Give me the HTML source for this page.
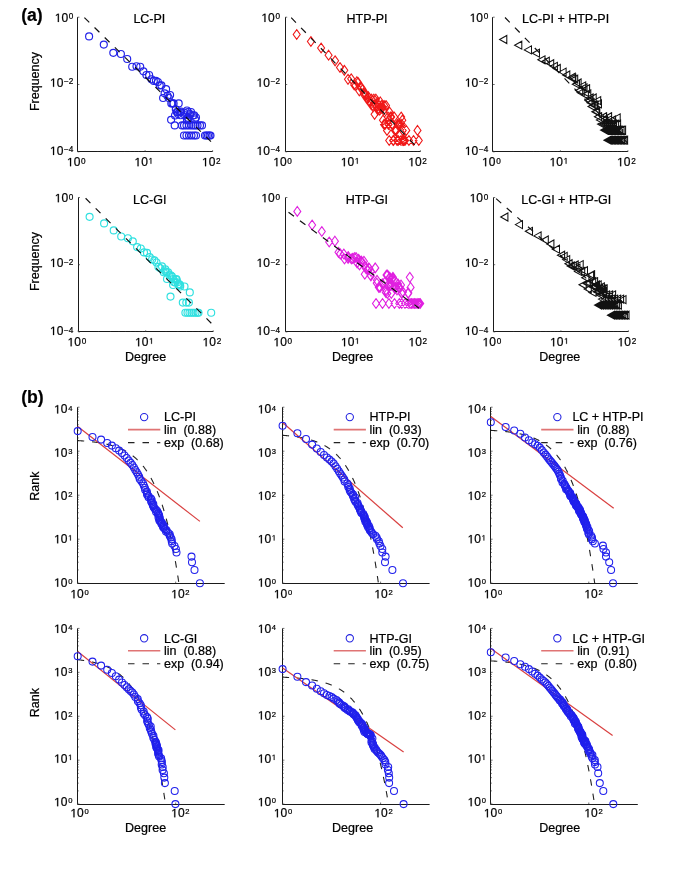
<!DOCTYPE html><html><head><meta charset="utf-8"><style>html,body{margin:0;padding:0;background:#fff;}svg{display:block;filter:blur(0.3px);}text{font-family:"Liberation Sans", sans-serif;fill:#000;stroke:#000;stroke-width:0.22px;}</style></head><body>
<svg width="685" height="872" viewBox="0 0 685 872">
<rect width="685" height="872" fill="#fff"/>
<text x="21.2" y="20.6" font-size="17.6" font-weight="bold">(a)</text>
<text x="21.2" y="403.4" font-size="17.6" font-weight="bold">(b)</text>
<path d="M77.50 17.20V151.50H212.60" fill="none" stroke="#1a1a1a" stroke-width="1.0"/>
<path d="M77.60 151.80v-1.6M97.92 151.80v-0.8M109.81 151.80v-0.8M118.24 151.80v-0.8M124.78 151.80v-0.8M130.13 151.80v-0.8M134.64 151.80v-0.8M138.56 151.80v-0.8M142.01 151.80v-0.8M145.10 151.80v-1.6M165.42 151.80v-0.8M177.31 151.80v-0.8M185.74 151.80v-0.8M192.28 151.80v-0.8M197.63 151.80v-0.8M202.14 151.80v-0.8M206.06 151.80v-0.8M209.51 151.80v-0.8M212.60 151.80v-1.6M77.60 151.80h1.8M77.60 84.50h1.8M77.60 17.20h1.8" stroke="#333" stroke-width="0.7" fill="none"/>
<path transform="translate(67.00 166.20) scale(0.00586 -0.00586)" d="M515 0L696 0L696 1409L530 1409L197 1180L197 1010L515 1237Z" fill="#000" stroke="#000" stroke-width="37.5"/><text x="73.67" y="166.20" font-size="12.0">0</text><text x="81.04" y="163.70" font-size="8.2">0</text>
<path transform="translate(134.50 166.20) scale(0.00586 -0.00586)" d="M515 0L696 0L696 1409L530 1409L197 1180L197 1010L515 1237Z" fill="#000" stroke="#000" stroke-width="37.5"/><text x="141.17" y="166.20" font-size="12.0">0</text><path transform="translate(148.54 163.70) scale(0.00400 -0.00400)" d="M515 0L696 0L696 1409L530 1409L197 1180L197 1010L515 1237Z" fill="#000" stroke="#000" stroke-width="54.9"/>
<path transform="translate(202.00 166.20) scale(0.00586 -0.00586)" d="M515 0L696 0L696 1409L530 1409L197 1180L197 1010L515 1237Z" fill="#000" stroke="#000" stroke-width="37.5"/><text x="208.67" y="166.20" font-size="12.0">0</text><text x="216.04" y="163.70" font-size="8.2">2</text>
<path transform="translate(54.79 21.90) scale(0.00586 -0.00586)" d="M515 0L696 0L696 1409L530 1409L197 1180L197 1010L515 1237Z" fill="#000" stroke="#000" stroke-width="37.5"/><text x="61.46" y="21.90" font-size="12.0">0</text><text x="68.84" y="19.40" font-size="8.2">0</text>
<path transform="translate(50.00 86.80) scale(0.00586 -0.00586)" d="M515 0L696 0L696 1409L530 1409L197 1180L197 1010L515 1237Z" fill="#000" stroke="#000" stroke-width="37.5"/><text x="56.68" y="86.80" font-size="12.0">0</text><text x="64.05" y="84.30" font-size="8.2">−</text><text x="68.84" y="84.30" font-size="8.2">2</text>
<path transform="translate(50.00 154.95) scale(0.00586 -0.00586)" d="M515 0L696 0L696 1409L530 1409L197 1180L197 1010L515 1237Z" fill="#000" stroke="#000" stroke-width="37.5"/><text x="56.68" y="154.95" font-size="12.0">0</text><text x="64.05" y="152.45" font-size="8.2">−</text><text x="68.84" y="152.45" font-size="8.2">4</text>
<text x="133.4" y="22.6" font-size="12.5">LC-PI</text>
<path d="M285.50 17.20V151.50H420.40" fill="none" stroke="#1a1a1a" stroke-width="1.0"/>
<path d="M285.40 151.80v-1.6M305.72 151.80v-0.8M317.61 151.80v-0.8M326.04 151.80v-0.8M332.58 151.80v-0.8M337.93 151.80v-0.8M342.44 151.80v-0.8M346.36 151.80v-0.8M349.81 151.80v-0.8M352.90 151.80v-1.6M373.22 151.80v-0.8M385.11 151.80v-0.8M393.54 151.80v-0.8M400.08 151.80v-0.8M405.43 151.80v-0.8M409.94 151.80v-0.8M413.86 151.80v-0.8M417.31 151.80v-0.8M420.40 151.80v-1.6M285.40 151.80h1.8M285.40 84.50h1.8M285.40 17.20h1.8" stroke="#333" stroke-width="0.7" fill="none"/>
<path transform="translate(273.30 166.20) scale(0.00586 -0.00586)" d="M515 0L696 0L696 1409L530 1409L197 1180L197 1010L515 1237Z" fill="#000" stroke="#000" stroke-width="37.5"/><text x="279.97" y="166.20" font-size="12.0">0</text><text x="287.34" y="163.70" font-size="8.2">0</text>
<path transform="translate(340.80 166.20) scale(0.00586 -0.00586)" d="M515 0L696 0L696 1409L530 1409L197 1180L197 1010L515 1237Z" fill="#000" stroke="#000" stroke-width="37.5"/><text x="347.47" y="166.20" font-size="12.0">0</text><path transform="translate(354.84 163.70) scale(0.00400 -0.00400)" d="M515 0L696 0L696 1409L530 1409L197 1180L197 1010L515 1237Z" fill="#000" stroke="#000" stroke-width="54.9"/>
<path transform="translate(408.30 166.20) scale(0.00586 -0.00586)" d="M515 0L696 0L696 1409L530 1409L197 1180L197 1010L515 1237Z" fill="#000" stroke="#000" stroke-width="37.5"/><text x="414.97" y="166.20" font-size="12.0">0</text><text x="422.34" y="163.70" font-size="8.2">2</text>
<path transform="translate(261.39 21.90) scale(0.00586 -0.00586)" d="M515 0L696 0L696 1409L530 1409L197 1180L197 1010L515 1237Z" fill="#000" stroke="#000" stroke-width="37.5"/><text x="268.06" y="21.90" font-size="12.0">0</text><text x="275.44" y="19.40" font-size="8.2">0</text>
<path transform="translate(256.60 86.80) scale(0.00586 -0.00586)" d="M515 0L696 0L696 1409L530 1409L197 1180L197 1010L515 1237Z" fill="#000" stroke="#000" stroke-width="37.5"/><text x="263.28" y="86.80" font-size="12.0">0</text><text x="270.65" y="84.30" font-size="8.2">−</text><text x="275.44" y="84.30" font-size="8.2">2</text>
<path transform="translate(256.60 154.95) scale(0.00586 -0.00586)" d="M515 0L696 0L696 1409L530 1409L197 1180L197 1010L515 1237Z" fill="#000" stroke="#000" stroke-width="37.5"/><text x="263.28" y="154.95" font-size="12.0">0</text><text x="270.65" y="152.45" font-size="8.2">−</text><text x="275.44" y="152.45" font-size="8.2">4</text>
<text x="346.5" y="22.6" font-size="12.5">HTP-PI</text>
<path d="M492.50 17.20V151.50H627.90" fill="none" stroke="#1a1a1a" stroke-width="1.0"/>
<path d="M492.90 151.80v-1.6M513.22 151.80v-0.8M525.11 151.80v-0.8M533.54 151.80v-0.8M540.08 151.80v-0.8M545.43 151.80v-0.8M549.94 151.80v-0.8M553.86 151.80v-0.8M557.31 151.80v-0.8M560.40 151.80v-1.6M580.72 151.80v-0.8M592.61 151.80v-0.8M601.04 151.80v-0.8M607.58 151.80v-0.8M612.93 151.80v-0.8M617.44 151.80v-0.8M621.36 151.80v-0.8M624.81 151.80v-0.8M627.90 151.80v-1.6M492.90 151.80h1.8M492.90 84.50h1.8M492.90 17.20h1.8" stroke="#333" stroke-width="0.7" fill="none"/>
<path transform="translate(482.10 166.20) scale(0.00586 -0.00586)" d="M515 0L696 0L696 1409L530 1409L197 1180L197 1010L515 1237Z" fill="#000" stroke="#000" stroke-width="37.5"/><text x="488.77" y="166.20" font-size="12.0">0</text><text x="496.14" y="163.70" font-size="8.2">0</text>
<path transform="translate(549.60 166.20) scale(0.00586 -0.00586)" d="M515 0L696 0L696 1409L530 1409L197 1180L197 1010L515 1237Z" fill="#000" stroke="#000" stroke-width="37.5"/><text x="556.27" y="166.20" font-size="12.0">0</text><path transform="translate(563.64 163.70) scale(0.00400 -0.00400)" d="M515 0L696 0L696 1409L530 1409L197 1180L197 1010L515 1237Z" fill="#000" stroke="#000" stroke-width="54.9"/>
<path transform="translate(617.10 166.20) scale(0.00586 -0.00586)" d="M515 0L696 0L696 1409L530 1409L197 1180L197 1010L515 1237Z" fill="#000" stroke="#000" stroke-width="37.5"/><text x="623.77" y="166.20" font-size="12.0">0</text><text x="631.14" y="163.70" font-size="8.2">2</text>
<path transform="translate(469.69 21.90) scale(0.00586 -0.00586)" d="M515 0L696 0L696 1409L530 1409L197 1180L197 1010L515 1237Z" fill="#000" stroke="#000" stroke-width="37.5"/><text x="476.36" y="21.90" font-size="12.0">0</text><text x="483.74" y="19.40" font-size="8.2">0</text>
<path transform="translate(464.90 86.80) scale(0.00586 -0.00586)" d="M515 0L696 0L696 1409L530 1409L197 1180L197 1010L515 1237Z" fill="#000" stroke="#000" stroke-width="37.5"/><text x="471.58" y="86.80" font-size="12.0">0</text><text x="478.95" y="84.30" font-size="8.2">−</text><text x="483.74" y="84.30" font-size="8.2">2</text>
<path transform="translate(464.90 154.95) scale(0.00586 -0.00586)" d="M515 0L696 0L696 1409L530 1409L197 1180L197 1010L515 1237Z" fill="#000" stroke="#000" stroke-width="37.5"/><text x="471.58" y="154.95" font-size="12.0">0</text><text x="478.95" y="152.45" font-size="8.2">−</text><text x="483.74" y="152.45" font-size="8.2">4</text>
<text x="522.0" y="22.6" font-size="12.5">LC-PI + HTP-PI</text>
<text transform="translate(38.8 81.5) rotate(-90)" text-anchor="middle" font-size="12.5">Frequency</text>
<path d="M78.50 197.50V331.50H213.20" fill="none" stroke="#1a1a1a" stroke-width="1.0"/>
<path d="M78.20 331.90v-1.6M98.52 331.90v-0.8M110.41 331.90v-0.8M118.84 331.90v-0.8M125.38 331.90v-0.8M130.73 331.90v-0.8M135.24 331.90v-0.8M139.16 331.90v-0.8M142.61 331.90v-0.8M145.70 331.90v-1.6M166.02 331.90v-0.8M177.91 331.90v-0.8M186.34 331.90v-0.8M192.88 331.90v-0.8M198.23 331.90v-0.8M202.74 331.90v-0.8M206.66 331.90v-0.8M210.11 331.90v-0.8M213.20 331.90v-1.6M78.20 331.90h1.8M78.20 264.70h1.8M78.20 197.50h1.8" stroke="#333" stroke-width="0.7" fill="none"/>
<path transform="translate(67.60 346.30) scale(0.00586 -0.00586)" d="M515 0L696 0L696 1409L530 1409L197 1180L197 1010L515 1237Z" fill="#000" stroke="#000" stroke-width="37.5"/><text x="74.27" y="346.30" font-size="12.0">0</text><text x="81.64" y="343.80" font-size="8.2">0</text>
<path transform="translate(135.10 346.30) scale(0.00586 -0.00586)" d="M515 0L696 0L696 1409L530 1409L197 1180L197 1010L515 1237Z" fill="#000" stroke="#000" stroke-width="37.5"/><text x="141.77" y="346.30" font-size="12.0">0</text><path transform="translate(149.14 343.80) scale(0.00400 -0.00400)" d="M515 0L696 0L696 1409L530 1409L197 1180L197 1010L515 1237Z" fill="#000" stroke="#000" stroke-width="54.9"/>
<path transform="translate(202.60 346.30) scale(0.00586 -0.00586)" d="M515 0L696 0L696 1409L530 1409L197 1180L197 1010L515 1237Z" fill="#000" stroke="#000" stroke-width="37.5"/><text x="209.27" y="346.30" font-size="12.0">0</text><text x="216.64" y="343.80" font-size="8.2">2</text>
<path transform="translate(54.79 202.20) scale(0.00586 -0.00586)" d="M515 0L696 0L696 1409L530 1409L197 1180L197 1010L515 1237Z" fill="#000" stroke="#000" stroke-width="37.5"/><text x="61.46" y="202.20" font-size="12.0">0</text><text x="68.84" y="199.70" font-size="8.2">0</text>
<path transform="translate(50.00 267.00) scale(0.00586 -0.00586)" d="M515 0L696 0L696 1409L530 1409L197 1180L197 1010L515 1237Z" fill="#000" stroke="#000" stroke-width="37.5"/><text x="56.68" y="267.00" font-size="12.0">0</text><text x="64.05" y="264.50" font-size="8.2">−</text><text x="68.84" y="264.50" font-size="8.2">2</text>
<path transform="translate(50.00 335.05) scale(0.00586 -0.00586)" d="M515 0L696 0L696 1409L530 1409L197 1180L197 1010L515 1237Z" fill="#000" stroke="#000" stroke-width="37.5"/><text x="56.68" y="335.05" font-size="12.0">0</text><text x="64.05" y="332.55" font-size="8.2">−</text><text x="68.84" y="332.55" font-size="8.2">4</text>
<text x="133.1" y="203.5" font-size="12.5">LC-GI</text>
<path d="M285.50 197.50V331.50H420.60" fill="none" stroke="#1a1a1a" stroke-width="1.0"/>
<path d="M285.60 331.90v-1.6M305.92 331.90v-0.8M317.81 331.90v-0.8M326.24 331.90v-0.8M332.78 331.90v-0.8M338.13 331.90v-0.8M342.64 331.90v-0.8M346.56 331.90v-0.8M350.01 331.90v-0.8M353.10 331.90v-1.6M373.42 331.90v-0.8M385.31 331.90v-0.8M393.74 331.90v-0.8M400.28 331.90v-0.8M405.63 331.90v-0.8M410.14 331.90v-0.8M414.06 331.90v-0.8M417.51 331.90v-0.8M420.60 331.90v-1.6M285.60 331.90h1.8M285.60 264.70h1.8M285.60 197.50h1.8" stroke="#333" stroke-width="0.7" fill="none"/>
<path transform="translate(273.50 346.30) scale(0.00586 -0.00586)" d="M515 0L696 0L696 1409L530 1409L197 1180L197 1010L515 1237Z" fill="#000" stroke="#000" stroke-width="37.5"/><text x="280.17" y="346.30" font-size="12.0">0</text><text x="287.54" y="343.80" font-size="8.2">0</text>
<path transform="translate(341.00 346.30) scale(0.00586 -0.00586)" d="M515 0L696 0L696 1409L530 1409L197 1180L197 1010L515 1237Z" fill="#000" stroke="#000" stroke-width="37.5"/><text x="347.67" y="346.30" font-size="12.0">0</text><path transform="translate(355.04 343.80) scale(0.00400 -0.00400)" d="M515 0L696 0L696 1409L530 1409L197 1180L197 1010L515 1237Z" fill="#000" stroke="#000" stroke-width="54.9"/>
<path transform="translate(408.50 346.30) scale(0.00586 -0.00586)" d="M515 0L696 0L696 1409L530 1409L197 1180L197 1010L515 1237Z" fill="#000" stroke="#000" stroke-width="37.5"/><text x="415.17" y="346.30" font-size="12.0">0</text><text x="422.54" y="343.80" font-size="8.2">2</text>
<path transform="translate(261.39 202.20) scale(0.00586 -0.00586)" d="M515 0L696 0L696 1409L530 1409L197 1180L197 1010L515 1237Z" fill="#000" stroke="#000" stroke-width="37.5"/><text x="268.06" y="202.20" font-size="12.0">0</text><text x="275.44" y="199.70" font-size="8.2">0</text>
<path transform="translate(256.60 267.00) scale(0.00586 -0.00586)" d="M515 0L696 0L696 1409L530 1409L197 1180L197 1010L515 1237Z" fill="#000" stroke="#000" stroke-width="37.5"/><text x="263.28" y="267.00" font-size="12.0">0</text><text x="270.65" y="264.50" font-size="8.2">−</text><text x="275.44" y="264.50" font-size="8.2">2</text>
<path transform="translate(256.60 335.05) scale(0.00586 -0.00586)" d="M515 0L696 0L696 1409L530 1409L197 1180L197 1010L515 1237Z" fill="#000" stroke="#000" stroke-width="37.5"/><text x="263.28" y="335.05" font-size="12.0">0</text><text x="270.65" y="332.55" font-size="8.2">−</text><text x="275.44" y="332.55" font-size="8.2">4</text>
<text x="345.7" y="203.5" font-size="12.5">HTP-GI</text>
<path d="M493.50 197.50V331.50H628.40" fill="none" stroke="#1a1a1a" stroke-width="1.0"/>
<path d="M493.40 331.90v-1.6M513.72 331.90v-0.8M525.61 331.90v-0.8M534.04 331.90v-0.8M540.58 331.90v-0.8M545.93 331.90v-0.8M550.44 331.90v-0.8M554.36 331.90v-0.8M557.81 331.90v-0.8M560.90 331.90v-1.6M581.22 331.90v-0.8M593.11 331.90v-0.8M601.54 331.90v-0.8M608.08 331.90v-0.8M613.43 331.90v-0.8M617.94 331.90v-0.8M621.86 331.90v-0.8M625.31 331.90v-0.8M628.40 331.90v-1.6M493.40 331.90h1.8M493.40 264.70h1.8M493.40 197.50h1.8" stroke="#333" stroke-width="0.7" fill="none"/>
<path transform="translate(482.60 346.30) scale(0.00586 -0.00586)" d="M515 0L696 0L696 1409L530 1409L197 1180L197 1010L515 1237Z" fill="#000" stroke="#000" stroke-width="37.5"/><text x="489.27" y="346.30" font-size="12.0">0</text><text x="496.64" y="343.80" font-size="8.2">0</text>
<path transform="translate(550.10 346.30) scale(0.00586 -0.00586)" d="M515 0L696 0L696 1409L530 1409L197 1180L197 1010L515 1237Z" fill="#000" stroke="#000" stroke-width="37.5"/><text x="556.77" y="346.30" font-size="12.0">0</text><path transform="translate(564.14 343.80) scale(0.00400 -0.00400)" d="M515 0L696 0L696 1409L530 1409L197 1180L197 1010L515 1237Z" fill="#000" stroke="#000" stroke-width="54.9"/>
<path transform="translate(617.60 346.30) scale(0.00586 -0.00586)" d="M515 0L696 0L696 1409L530 1409L197 1180L197 1010L515 1237Z" fill="#000" stroke="#000" stroke-width="37.5"/><text x="624.27" y="346.30" font-size="12.0">0</text><text x="631.64" y="343.80" font-size="8.2">2</text>
<path transform="translate(469.69 202.20) scale(0.00586 -0.00586)" d="M515 0L696 0L696 1409L530 1409L197 1180L197 1010L515 1237Z" fill="#000" stroke="#000" stroke-width="37.5"/><text x="476.36" y="202.20" font-size="12.0">0</text><text x="483.74" y="199.70" font-size="8.2">0</text>
<path transform="translate(464.90 267.00) scale(0.00586 -0.00586)" d="M515 0L696 0L696 1409L530 1409L197 1180L197 1010L515 1237Z" fill="#000" stroke="#000" stroke-width="37.5"/><text x="471.58" y="267.00" font-size="12.0">0</text><text x="478.95" y="264.50" font-size="8.2">−</text><text x="483.74" y="264.50" font-size="8.2">2</text>
<path transform="translate(464.90 335.05) scale(0.00586 -0.00586)" d="M515 0L696 0L696 1409L530 1409L197 1180L197 1010L515 1237Z" fill="#000" stroke="#000" stroke-width="37.5"/><text x="471.58" y="335.05" font-size="12.0">0</text><text x="478.95" y="332.55" font-size="8.2">−</text><text x="483.74" y="332.55" font-size="8.2">4</text>
<text x="521.3" y="203.5" font-size="12.5">LC-GI + HTP-GI</text>
<text transform="translate(38.8 261.5) rotate(-90)" text-anchor="middle" font-size="12.5">Frequency</text>
<text x="145.6" y="360.7" text-anchor="middle" font-size="12.5">Degree</text>
<text x="352.6" y="360.7" text-anchor="middle" font-size="12.5">Degree</text>
<text x="559.8" y="360.7" text-anchor="middle" font-size="12.5">Degree</text>
<path d="M77.50 407.20V583.50H224.70" fill="none" stroke="#1a1a1a" stroke-width="1.0"/>
<path d="M77.70 583.20v-1.6M175.70 583.20v-1.6M77.70 583.20h1.8M77.70 569.95h1.0M77.70 562.21h1.0M77.70 556.71h1.0M77.70 552.45h1.0M77.70 548.96h1.0M77.70 546.02h1.0M77.70 543.46h1.0M77.70 541.21h1.0M77.70 539.20h1.8M77.70 525.95h1.0M77.70 518.21h1.0M77.70 512.71h1.0M77.70 508.45h1.0M77.70 504.96h1.0M77.70 502.02h1.0M77.70 499.46h1.0M77.70 497.21h1.0M77.70 495.20h1.8M77.70 481.95h1.0M77.70 474.21h1.0M77.70 468.71h1.0M77.70 464.45h1.0M77.70 460.96h1.0M77.70 458.02h1.0M77.70 455.46h1.0M77.70 453.21h1.0M77.70 451.20h1.8M77.70 437.95h1.0M77.70 430.21h1.0M77.70 424.71h1.0M77.70 420.45h1.0M77.70 416.96h1.0M77.70 414.02h1.0M77.70 411.46h1.0M77.70 409.21h1.0M77.70 407.20h1.8" stroke="#333" stroke-width="0.7" fill="none"/>
<path transform="translate(70.41 598.30) scale(0.00586 -0.00586)" d="M515 0L696 0L696 1409L530 1409L197 1180L197 1010L515 1237Z" fill="#000" stroke="#000" stroke-width="37.5"/><text x="77.09" y="598.30" font-size="12.0">0</text><text x="84.46" y="595.40" font-size="7.6">0</text>
<path transform="translate(171.21 598.30) scale(0.00586 -0.00586)" d="M515 0L696 0L696 1409L530 1409L197 1180L197 1010L515 1237Z" fill="#000" stroke="#000" stroke-width="37.5"/><text x="177.89" y="598.30" font-size="12.0">0</text><text x="185.26" y="595.40" font-size="7.6">2</text>
<path transform="translate(54.12 586.68) scale(0.00586 -0.00586)" d="M515 0L696 0L696 1409L530 1409L197 1180L197 1010L515 1237Z" fill="#000" stroke="#000" stroke-width="37.5"/><text x="60.80" y="586.68" font-size="12.0">0</text><text x="68.17" y="583.78" font-size="7.6">0</text>
<path transform="translate(54.12 543.36) scale(0.00586 -0.00586)" d="M515 0L696 0L696 1409L530 1409L197 1180L197 1010L515 1237Z" fill="#000" stroke="#000" stroke-width="37.5"/><text x="60.80" y="543.36" font-size="12.0">0</text><path transform="translate(68.17 540.46) scale(0.00371 -0.00371)" d="M515 0L696 0L696 1409L530 1409L197 1180L197 1010L515 1237Z" fill="#000" stroke="#000" stroke-width="59.3"/>
<path transform="translate(54.12 500.04) scale(0.00586 -0.00586)" d="M515 0L696 0L696 1409L530 1409L197 1180L197 1010L515 1237Z" fill="#000" stroke="#000" stroke-width="37.5"/><text x="60.80" y="500.04" font-size="12.0">0</text><text x="68.17" y="497.14" font-size="7.6">2</text>
<path transform="translate(54.12 456.72) scale(0.00586 -0.00586)" d="M515 0L696 0L696 1409L530 1409L197 1180L197 1010L515 1237Z" fill="#000" stroke="#000" stroke-width="37.5"/><text x="60.80" y="456.72" font-size="12.0">0</text><text x="68.17" y="453.82" font-size="7.6">3</text>
<path transform="translate(54.12 413.40) scale(0.00586 -0.00586)" d="M515 0L696 0L696 1409L530 1409L197 1180L197 1010L515 1237Z" fill="#000" stroke="#000" stroke-width="37.5"/><text x="60.80" y="413.40" font-size="12.0">0</text><text x="68.17" y="410.50" font-size="7.6">4</text>
<circle cx="144.15" cy="417.10" r="3.65" fill="none" stroke="#2020e0" stroke-width="1.05"/>
<line x1="128.0" y1="429.60" x2="160.3" y2="429.60" stroke="#e07474" stroke-width="1.6"/>
<line x1="128.0" y1="442.60" x2="160.3" y2="442.60" stroke="#222" stroke-width="1.1" stroke-dasharray="6.5 8"/>
<text x="164.0" y="421.30" font-size="12.5">LC-PI</text>
<text x="164.0" y="433.90" font-size="12.5" xml:space="preserve">lin  (0.88)</text>
<text x="164.0" y="446.50" font-size="12.5" xml:space="preserve">exp  (0.68)</text>
<path d="M282.50 407.20V583.50H429.60" fill="none" stroke="#1a1a1a" stroke-width="1.0"/>
<path d="M282.60 583.20v-1.6M380.60 583.20v-1.6M282.60 583.20h1.8M282.60 569.95h1.0M282.60 562.21h1.0M282.60 556.71h1.0M282.60 552.45h1.0M282.60 548.96h1.0M282.60 546.02h1.0M282.60 543.46h1.0M282.60 541.21h1.0M282.60 539.20h1.8M282.60 525.95h1.0M282.60 518.21h1.0M282.60 512.71h1.0M282.60 508.45h1.0M282.60 504.96h1.0M282.60 502.02h1.0M282.60 499.46h1.0M282.60 497.21h1.0M282.60 495.20h1.8M282.60 481.95h1.0M282.60 474.21h1.0M282.60 468.71h1.0M282.60 464.45h1.0M282.60 460.96h1.0M282.60 458.02h1.0M282.60 455.46h1.0M282.60 453.21h1.0M282.60 451.20h1.8M282.60 437.95h1.0M282.60 430.21h1.0M282.60 424.71h1.0M282.60 420.45h1.0M282.60 416.96h1.0M282.60 414.02h1.0M282.60 411.46h1.0M282.60 409.21h1.0M282.60 407.20h1.8" stroke="#333" stroke-width="0.7" fill="none"/>
<path transform="translate(273.86 598.30) scale(0.00586 -0.00586)" d="M515 0L696 0L696 1409L530 1409L197 1180L197 1010L515 1237Z" fill="#000" stroke="#000" stroke-width="37.5"/><text x="280.54" y="598.30" font-size="12.0">0</text><text x="287.91" y="595.40" font-size="7.6">0</text>
<path transform="translate(374.41 598.30) scale(0.00586 -0.00586)" d="M515 0L696 0L696 1409L530 1409L197 1180L197 1010L515 1237Z" fill="#000" stroke="#000" stroke-width="37.5"/><text x="381.09" y="598.30" font-size="12.0">0</text><text x="388.46" y="595.40" font-size="7.6">2</text>
<path transform="translate(257.82 586.68) scale(0.00586 -0.00586)" d="M515 0L696 0L696 1409L530 1409L197 1180L197 1010L515 1237Z" fill="#000" stroke="#000" stroke-width="37.5"/><text x="264.50" y="586.68" font-size="12.0">0</text><text x="271.87" y="583.78" font-size="7.6">0</text>
<path transform="translate(257.82 543.36) scale(0.00586 -0.00586)" d="M515 0L696 0L696 1409L530 1409L197 1180L197 1010L515 1237Z" fill="#000" stroke="#000" stroke-width="37.5"/><text x="264.50" y="543.36" font-size="12.0">0</text><path transform="translate(271.87 540.46) scale(0.00371 -0.00371)" d="M515 0L696 0L696 1409L530 1409L197 1180L197 1010L515 1237Z" fill="#000" stroke="#000" stroke-width="59.3"/>
<path transform="translate(257.82 500.04) scale(0.00586 -0.00586)" d="M515 0L696 0L696 1409L530 1409L197 1180L197 1010L515 1237Z" fill="#000" stroke="#000" stroke-width="37.5"/><text x="264.50" y="500.04" font-size="12.0">0</text><text x="271.87" y="497.14" font-size="7.6">2</text>
<path transform="translate(257.82 456.72) scale(0.00586 -0.00586)" d="M515 0L696 0L696 1409L530 1409L197 1180L197 1010L515 1237Z" fill="#000" stroke="#000" stroke-width="37.5"/><text x="264.50" y="456.72" font-size="12.0">0</text><text x="271.87" y="453.82" font-size="7.6">3</text>
<path transform="translate(257.82 413.40) scale(0.00586 -0.00586)" d="M515 0L696 0L696 1409L530 1409L197 1180L197 1010L515 1237Z" fill="#000" stroke="#000" stroke-width="37.5"/><text x="264.50" y="413.40" font-size="12.0">0</text><text x="271.87" y="410.50" font-size="7.6">4</text>
<circle cx="349.80" cy="417.10" r="3.65" fill="none" stroke="#2020e0" stroke-width="1.05"/>
<line x1="333.7" y1="429.60" x2="365.9" y2="429.60" stroke="#e07474" stroke-width="1.6"/>
<line x1="333.7" y1="442.60" x2="365.9" y2="442.60" stroke="#222" stroke-width="1.1" stroke-dasharray="6.5 8"/>
<text x="369.5" y="421.30" font-size="12.5">HTP-PI</text>
<text x="369.5" y="433.90" font-size="12.5" xml:space="preserve">lin  (0.93)</text>
<text x="369.5" y="446.50" font-size="12.5" xml:space="preserve">exp  (0.70)</text>
<path d="M490.50 407.20V583.50H637.80" fill="none" stroke="#1a1a1a" stroke-width="1.0"/>
<path d="M490.80 583.20v-1.6M588.80 583.20v-1.6M490.80 583.20h1.8M490.80 569.95h1.0M490.80 562.21h1.0M490.80 556.71h1.0M490.80 552.45h1.0M490.80 548.96h1.0M490.80 546.02h1.0M490.80 543.46h1.0M490.80 541.21h1.0M490.80 539.20h1.8M490.80 525.95h1.0M490.80 518.21h1.0M490.80 512.71h1.0M490.80 508.45h1.0M490.80 504.96h1.0M490.80 502.02h1.0M490.80 499.46h1.0M490.80 497.21h1.0M490.80 495.20h1.8M490.80 481.95h1.0M490.80 474.21h1.0M490.80 468.71h1.0M490.80 464.45h1.0M490.80 460.96h1.0M490.80 458.02h1.0M490.80 455.46h1.0M490.80 453.21h1.0M490.80 451.20h1.8M490.80 437.95h1.0M490.80 430.21h1.0M490.80 424.71h1.0M490.80 420.45h1.0M490.80 416.96h1.0M490.80 414.02h1.0M490.80 411.46h1.0M490.80 409.21h1.0M490.80 407.20h1.8" stroke="#333" stroke-width="0.7" fill="none"/>
<path transform="translate(483.86 598.30) scale(0.00586 -0.00586)" d="M515 0L696 0L696 1409L530 1409L197 1180L197 1010L515 1237Z" fill="#000" stroke="#000" stroke-width="37.5"/><text x="490.54" y="598.30" font-size="12.0">0</text><text x="497.91" y="595.40" font-size="7.6">0</text>
<path transform="translate(584.41 598.30) scale(0.00586 -0.00586)" d="M515 0L696 0L696 1409L530 1409L197 1180L197 1010L515 1237Z" fill="#000" stroke="#000" stroke-width="37.5"/><text x="591.09" y="598.30" font-size="12.0">0</text><text x="598.46" y="595.40" font-size="7.6">2</text>
<path transform="translate(467.62 586.68) scale(0.00586 -0.00586)" d="M515 0L696 0L696 1409L530 1409L197 1180L197 1010L515 1237Z" fill="#000" stroke="#000" stroke-width="37.5"/><text x="474.30" y="586.68" font-size="12.0">0</text><text x="481.67" y="583.78" font-size="7.6">0</text>
<path transform="translate(467.62 543.36) scale(0.00586 -0.00586)" d="M515 0L696 0L696 1409L530 1409L197 1180L197 1010L515 1237Z" fill="#000" stroke="#000" stroke-width="37.5"/><text x="474.30" y="543.36" font-size="12.0">0</text><path transform="translate(481.67 540.46) scale(0.00371 -0.00371)" d="M515 0L696 0L696 1409L530 1409L197 1180L197 1010L515 1237Z" fill="#000" stroke="#000" stroke-width="59.3"/>
<path transform="translate(467.62 500.04) scale(0.00586 -0.00586)" d="M515 0L696 0L696 1409L530 1409L197 1180L197 1010L515 1237Z" fill="#000" stroke="#000" stroke-width="37.5"/><text x="474.30" y="500.04" font-size="12.0">0</text><text x="481.67" y="497.14" font-size="7.6">2</text>
<path transform="translate(467.62 456.72) scale(0.00586 -0.00586)" d="M515 0L696 0L696 1409L530 1409L197 1180L197 1010L515 1237Z" fill="#000" stroke="#000" stroke-width="37.5"/><text x="474.30" y="456.72" font-size="12.0">0</text><text x="481.67" y="453.82" font-size="7.6">3</text>
<path transform="translate(467.62 413.40) scale(0.00586 -0.00586)" d="M515 0L696 0L696 1409L530 1409L197 1180L197 1010L515 1237Z" fill="#000" stroke="#000" stroke-width="37.5"/><text x="474.30" y="413.40" font-size="12.0">0</text><text x="481.67" y="410.50" font-size="7.6">4</text>
<circle cx="557.35" cy="417.10" r="3.65" fill="none" stroke="#2020e0" stroke-width="1.05"/>
<line x1="541.2" y1="429.60" x2="573.5" y2="429.60" stroke="#e07474" stroke-width="1.6"/>
<line x1="541.2" y1="442.60" x2="573.5" y2="442.60" stroke="#222" stroke-width="1.1" stroke-dasharray="6.5 8"/>
<text x="572.4" y="421.30" font-size="12.5">LC + HTP-PI</text>
<text x="577.2" y="433.90" font-size="12.5" xml:space="preserve">lin  (0.88)</text>
<text x="577.2" y="446.50" font-size="12.5" xml:space="preserve">exp  (0.76)</text>
<text transform="translate(38.9 486.1) rotate(-90)" text-anchor="middle" font-size="12.5">Rank</text>
<path d="M77.50 628.40V804.50H224.70" fill="none" stroke="#1a1a1a" stroke-width="1.0"/>
<path d="M77.70 804.10v-1.6M175.70 804.10v-1.6M77.70 804.10h1.8M77.70 790.88h1.0M77.70 783.14h1.0M77.70 777.65h1.0M77.70 773.40h1.0M77.70 769.92h1.0M77.70 766.98h1.0M77.70 764.43h1.0M77.70 762.18h1.0M77.70 760.17h1.8M77.70 746.95h1.0M77.70 739.22h1.0M77.70 733.73h1.0M77.70 729.47h1.0M77.70 725.99h1.0M77.70 723.05h1.0M77.70 720.51h1.0M77.70 718.26h1.0M77.70 716.25h1.8M77.70 703.03h1.0M77.70 695.29h1.0M77.70 689.80h1.0M77.70 685.55h1.0M77.70 682.07h1.0M77.70 679.13h1.0M77.70 676.58h1.0M77.70 674.33h1.0M77.70 672.33h1.8M77.70 659.10h1.0M77.70 651.37h1.0M77.70 645.88h1.0M77.70 641.62h1.0M77.70 638.14h1.0M77.70 635.20h1.0M77.70 632.66h1.0M77.70 630.41h1.0M77.70 628.40h1.8" stroke="#333" stroke-width="0.7" fill="none"/>
<path transform="translate(70.41 817.30) scale(0.00586 -0.00586)" d="M515 0L696 0L696 1409L530 1409L197 1180L197 1010L515 1237Z" fill="#000" stroke="#000" stroke-width="37.5"/><text x="77.09" y="817.30" font-size="12.0">0</text><text x="84.46" y="814.40" font-size="7.6">0</text>
<path transform="translate(171.21 817.30) scale(0.00586 -0.00586)" d="M515 0L696 0L696 1409L530 1409L197 1180L197 1010L515 1237Z" fill="#000" stroke="#000" stroke-width="37.5"/><text x="177.89" y="817.30" font-size="12.0">0</text><text x="185.26" y="814.40" font-size="7.6">2</text>
<path transform="translate(54.12 806.18) scale(0.00586 -0.00586)" d="M515 0L696 0L696 1409L530 1409L197 1180L197 1010L515 1237Z" fill="#000" stroke="#000" stroke-width="37.5"/><text x="60.80" y="806.18" font-size="12.0">0</text><text x="68.17" y="803.28" font-size="7.6">0</text>
<path transform="translate(54.12 762.86) scale(0.00586 -0.00586)" d="M515 0L696 0L696 1409L530 1409L197 1180L197 1010L515 1237Z" fill="#000" stroke="#000" stroke-width="37.5"/><text x="60.80" y="762.86" font-size="12.0">0</text><path transform="translate(68.17 759.96) scale(0.00371 -0.00371)" d="M515 0L696 0L696 1409L530 1409L197 1180L197 1010L515 1237Z" fill="#000" stroke="#000" stroke-width="59.3"/>
<path transform="translate(54.12 719.54) scale(0.00586 -0.00586)" d="M515 0L696 0L696 1409L530 1409L197 1180L197 1010L515 1237Z" fill="#000" stroke="#000" stroke-width="37.5"/><text x="60.80" y="719.54" font-size="12.0">0</text><text x="68.17" y="716.64" font-size="7.6">2</text>
<path transform="translate(54.12 676.22) scale(0.00586 -0.00586)" d="M515 0L696 0L696 1409L530 1409L197 1180L197 1010L515 1237Z" fill="#000" stroke="#000" stroke-width="37.5"/><text x="60.80" y="676.22" font-size="12.0">0</text><text x="68.17" y="673.32" font-size="7.6">3</text>
<path transform="translate(54.12 632.90) scale(0.00586 -0.00586)" d="M515 0L696 0L696 1409L530 1409L197 1180L197 1010L515 1237Z" fill="#000" stroke="#000" stroke-width="37.5"/><text x="60.80" y="632.90" font-size="12.0">0</text><text x="68.17" y="630.00" font-size="7.6">4</text>
<circle cx="144.15" cy="638.30" r="3.65" fill="none" stroke="#2020e0" stroke-width="1.05"/>
<line x1="128.0" y1="650.80" x2="160.3" y2="650.80" stroke="#e07474" stroke-width="1.6"/>
<line x1="128.0" y1="663.80" x2="160.3" y2="663.80" stroke="#222" stroke-width="1.1" stroke-dasharray="6.5 8"/>
<text x="164.0" y="642.50" font-size="12.5">LC-GI</text>
<text x="164.0" y="655.10" font-size="12.5" xml:space="preserve">lin  (0.88)</text>
<text x="164.0" y="667.70" font-size="12.5" xml:space="preserve">exp  (0.94)</text>
<path d="M282.50 628.40V804.50H429.60" fill="none" stroke="#1a1a1a" stroke-width="1.0"/>
<path d="M282.60 804.10v-1.6M380.60 804.10v-1.6M282.60 804.10h1.8M282.60 790.88h1.0M282.60 783.14h1.0M282.60 777.65h1.0M282.60 773.40h1.0M282.60 769.92h1.0M282.60 766.98h1.0M282.60 764.43h1.0M282.60 762.18h1.0M282.60 760.17h1.8M282.60 746.95h1.0M282.60 739.22h1.0M282.60 733.73h1.0M282.60 729.47h1.0M282.60 725.99h1.0M282.60 723.05h1.0M282.60 720.51h1.0M282.60 718.26h1.0M282.60 716.25h1.8M282.60 703.03h1.0M282.60 695.29h1.0M282.60 689.80h1.0M282.60 685.55h1.0M282.60 682.07h1.0M282.60 679.13h1.0M282.60 676.58h1.0M282.60 674.33h1.0M282.60 672.33h1.8M282.60 659.10h1.0M282.60 651.37h1.0M282.60 645.88h1.0M282.60 641.62h1.0M282.60 638.14h1.0M282.60 635.20h1.0M282.60 632.66h1.0M282.60 630.41h1.0M282.60 628.40h1.8" stroke="#333" stroke-width="0.7" fill="none"/>
<path transform="translate(273.86 817.30) scale(0.00586 -0.00586)" d="M515 0L696 0L696 1409L530 1409L197 1180L197 1010L515 1237Z" fill="#000" stroke="#000" stroke-width="37.5"/><text x="280.54" y="817.30" font-size="12.0">0</text><text x="287.91" y="814.40" font-size="7.6">0</text>
<path transform="translate(374.41 817.30) scale(0.00586 -0.00586)" d="M515 0L696 0L696 1409L530 1409L197 1180L197 1010L515 1237Z" fill="#000" stroke="#000" stroke-width="37.5"/><text x="381.09" y="817.30" font-size="12.0">0</text><text x="388.46" y="814.40" font-size="7.6">2</text>
<path transform="translate(257.82 806.18) scale(0.00586 -0.00586)" d="M515 0L696 0L696 1409L530 1409L197 1180L197 1010L515 1237Z" fill="#000" stroke="#000" stroke-width="37.5"/><text x="264.50" y="806.18" font-size="12.0">0</text><text x="271.87" y="803.28" font-size="7.6">0</text>
<path transform="translate(257.82 762.86) scale(0.00586 -0.00586)" d="M515 0L696 0L696 1409L530 1409L197 1180L197 1010L515 1237Z" fill="#000" stroke="#000" stroke-width="37.5"/><text x="264.50" y="762.86" font-size="12.0">0</text><path transform="translate(271.87 759.96) scale(0.00371 -0.00371)" d="M515 0L696 0L696 1409L530 1409L197 1180L197 1010L515 1237Z" fill="#000" stroke="#000" stroke-width="59.3"/>
<path transform="translate(257.82 719.54) scale(0.00586 -0.00586)" d="M515 0L696 0L696 1409L530 1409L197 1180L197 1010L515 1237Z" fill="#000" stroke="#000" stroke-width="37.5"/><text x="264.50" y="719.54" font-size="12.0">0</text><text x="271.87" y="716.64" font-size="7.6">2</text>
<path transform="translate(257.82 676.22) scale(0.00586 -0.00586)" d="M515 0L696 0L696 1409L530 1409L197 1180L197 1010L515 1237Z" fill="#000" stroke="#000" stroke-width="37.5"/><text x="264.50" y="676.22" font-size="12.0">0</text><text x="271.87" y="673.32" font-size="7.6">3</text>
<path transform="translate(257.82 632.90) scale(0.00586 -0.00586)" d="M515 0L696 0L696 1409L530 1409L197 1180L197 1010L515 1237Z" fill="#000" stroke="#000" stroke-width="37.5"/><text x="264.50" y="632.90" font-size="12.0">0</text><text x="271.87" y="630.00" font-size="7.6">4</text>
<circle cx="349.80" cy="638.30" r="3.65" fill="none" stroke="#2020e0" stroke-width="1.05"/>
<line x1="333.7" y1="650.80" x2="365.9" y2="650.80" stroke="#e07474" stroke-width="1.6"/>
<line x1="333.7" y1="663.80" x2="365.9" y2="663.80" stroke="#222" stroke-width="1.1" stroke-dasharray="6.5 8"/>
<text x="369.5" y="642.50" font-size="12.5">HTP-GI</text>
<text x="369.5" y="655.10" font-size="12.5" xml:space="preserve">lin  (0.95)</text>
<text x="369.5" y="667.70" font-size="12.5" xml:space="preserve">exp  (0.75)</text>
<path d="M490.50 628.40V804.50H637.80" fill="none" stroke="#1a1a1a" stroke-width="1.0"/>
<path d="M490.80 804.10v-1.6M588.80 804.10v-1.6M490.80 804.10h1.8M490.80 790.88h1.0M490.80 783.14h1.0M490.80 777.65h1.0M490.80 773.40h1.0M490.80 769.92h1.0M490.80 766.98h1.0M490.80 764.43h1.0M490.80 762.18h1.0M490.80 760.17h1.8M490.80 746.95h1.0M490.80 739.22h1.0M490.80 733.73h1.0M490.80 729.47h1.0M490.80 725.99h1.0M490.80 723.05h1.0M490.80 720.51h1.0M490.80 718.26h1.0M490.80 716.25h1.8M490.80 703.03h1.0M490.80 695.29h1.0M490.80 689.80h1.0M490.80 685.55h1.0M490.80 682.07h1.0M490.80 679.13h1.0M490.80 676.58h1.0M490.80 674.33h1.0M490.80 672.33h1.8M490.80 659.10h1.0M490.80 651.37h1.0M490.80 645.88h1.0M490.80 641.62h1.0M490.80 638.14h1.0M490.80 635.20h1.0M490.80 632.66h1.0M490.80 630.41h1.0M490.80 628.40h1.8" stroke="#333" stroke-width="0.7" fill="none"/>
<path transform="translate(483.86 817.30) scale(0.00586 -0.00586)" d="M515 0L696 0L696 1409L530 1409L197 1180L197 1010L515 1237Z" fill="#000" stroke="#000" stroke-width="37.5"/><text x="490.54" y="817.30" font-size="12.0">0</text><text x="497.91" y="814.40" font-size="7.6">0</text>
<path transform="translate(584.41 817.30) scale(0.00586 -0.00586)" d="M515 0L696 0L696 1409L530 1409L197 1180L197 1010L515 1237Z" fill="#000" stroke="#000" stroke-width="37.5"/><text x="591.09" y="817.30" font-size="12.0">0</text><text x="598.46" y="814.40" font-size="7.6">2</text>
<path transform="translate(467.62 806.18) scale(0.00586 -0.00586)" d="M515 0L696 0L696 1409L530 1409L197 1180L197 1010L515 1237Z" fill="#000" stroke="#000" stroke-width="37.5"/><text x="474.30" y="806.18" font-size="12.0">0</text><text x="481.67" y="803.28" font-size="7.6">0</text>
<path transform="translate(467.62 762.86) scale(0.00586 -0.00586)" d="M515 0L696 0L696 1409L530 1409L197 1180L197 1010L515 1237Z" fill="#000" stroke="#000" stroke-width="37.5"/><text x="474.30" y="762.86" font-size="12.0">0</text><path transform="translate(481.67 759.96) scale(0.00371 -0.00371)" d="M515 0L696 0L696 1409L530 1409L197 1180L197 1010L515 1237Z" fill="#000" stroke="#000" stroke-width="59.3"/>
<path transform="translate(467.62 719.54) scale(0.00586 -0.00586)" d="M515 0L696 0L696 1409L530 1409L197 1180L197 1010L515 1237Z" fill="#000" stroke="#000" stroke-width="37.5"/><text x="474.30" y="719.54" font-size="12.0">0</text><text x="481.67" y="716.64" font-size="7.6">2</text>
<path transform="translate(467.62 676.22) scale(0.00586 -0.00586)" d="M515 0L696 0L696 1409L530 1409L197 1180L197 1010L515 1237Z" fill="#000" stroke="#000" stroke-width="37.5"/><text x="474.30" y="676.22" font-size="12.0">0</text><text x="481.67" y="673.32" font-size="7.6">3</text>
<path transform="translate(467.62 632.90) scale(0.00586 -0.00586)" d="M515 0L696 0L696 1409L530 1409L197 1180L197 1010L515 1237Z" fill="#000" stroke="#000" stroke-width="37.5"/><text x="474.30" y="632.90" font-size="12.0">0</text><text x="481.67" y="630.00" font-size="7.6">4</text>
<circle cx="557.35" cy="638.30" r="3.65" fill="none" stroke="#2020e0" stroke-width="1.05"/>
<line x1="541.2" y1="650.80" x2="573.5" y2="650.80" stroke="#e07474" stroke-width="1.6"/>
<line x1="541.2" y1="663.80" x2="573.5" y2="663.80" stroke="#222" stroke-width="1.1" stroke-dasharray="6.5 8"/>
<text x="572.4" y="642.50" font-size="12.5">LC + HTP-GI</text>
<text x="577.2" y="655.10" font-size="12.5" xml:space="preserve">lin  (0.91)</text>
<text x="577.2" y="667.70" font-size="12.5" xml:space="preserve">exp  (0.80)</text>
<text transform="translate(38.9 702.6) rotate(-90)" text-anchor="middle" font-size="12.5">Rank</text>
<text x="145.6" y="832.1" text-anchor="middle" font-size="12.5">Degree</text>
<text x="352.6" y="832.1" text-anchor="middle" font-size="12.5">Degree</text>
<text x="559.7" y="832.1" text-anchor="middle" font-size="12.5">Degree</text>
<clipPath id="cb0"><rect x="77.7" y="406.7" width="147.5" height="176.50000000000006"/></clipPath>
<path d="M77.70 440.60L77.91 440.61L78.12 440.62L78.34 440.64L78.55 440.65L78.76 440.66L78.97 440.68L79.18 440.69L79.39 440.70L79.61 440.72L79.82 440.73L80.03 440.74L80.24 440.76L80.45 440.77L80.66 440.78L80.88 440.80L81.09 440.81L81.30 440.83L81.51 440.84L81.72 440.86L81.93 440.87L82.15 440.89L82.36 440.90L82.57 440.92L82.78 440.93L82.99 440.95L83.21 440.97L83.42 440.98L83.63 441.00L83.84 441.01L84.05 441.03L84.26 441.05L84.48 441.06L84.69 441.08L84.90 441.10L85.11 441.12L85.32 441.13L85.53 441.15L85.75 441.17L85.96 441.19L86.17 441.20L86.38 441.22L86.59 441.24L86.81 441.26L87.02 441.28L87.23 441.30L87.44 441.32L87.65 441.34L87.86 441.36L88.08 441.38L88.29 441.40L88.50 441.42L88.71 441.44L88.92 441.46L89.13 441.48L89.35 441.50L89.56 441.52L89.77 441.54L89.98 441.57L90.19 441.59L90.40 441.61L90.62 441.63L90.83 441.66L91.04 441.68L91.25 441.70L91.46 441.73L91.68 441.75L91.89 441.77L92.10 441.80L92.31 441.82L92.52 441.85L92.73 441.87L92.95 441.90L93.16 441.92L93.37 441.95L93.58 441.97L93.79 442.00L94.00 442.03L94.22 442.05L94.43 442.08L94.64 442.11L94.85 442.13L95.06 442.16L95.28 442.19L95.49 442.22L95.70 442.25L95.91 442.27L96.12 442.30L96.33 442.33L96.55 442.36L96.76 442.39L96.97 442.42L97.18 442.45L97.39 442.48L97.60 442.52L97.82 442.55L98.03 442.58L98.24 442.61L98.45 442.64L98.66 442.68L98.87 442.71L99.09 442.74L99.30 442.78L99.51 442.81L99.72 442.85L99.93 442.88L100.15 442.92L100.36 442.95L100.57 442.99L100.78 443.02L100.99 443.06L101.20 443.10L101.42 443.13L101.63 443.17L101.84 443.21L102.05 443.25L102.26 443.29L102.47 443.33L102.69 443.37L102.90 443.41L103.11 443.45L103.32 443.49L103.53 443.53L103.74 443.57L103.96 443.61L104.17 443.66L104.38 443.70L104.59 443.74L104.80 443.79L105.02 443.83L105.23 443.87L105.44 443.92L105.65 443.96L105.86 444.01L106.07 444.06L106.29 444.10L106.50 444.15L106.71 444.20L106.92 444.25L107.13 444.30L107.34 444.35L107.56 444.40L107.77 444.45L107.98 444.50L108.19 444.55L108.40 444.60L108.62 444.65L108.83 444.71L109.04 444.76L109.25 444.81L109.46 444.87L109.67 444.92L109.89 444.98L110.10 445.03L110.31 445.09L110.52 445.15L110.73 445.21L110.94 445.26L111.16 445.32L111.37 445.38L111.58 445.44L111.79 445.50L112.00 445.57L112.21 445.63L112.43 445.69L112.64 445.75L112.85 445.82L113.06 445.88L113.27 445.95L113.49 446.01L113.70 446.08L113.91 446.15L114.12 446.21L114.33 446.28L114.54 446.35L114.76 446.42L114.97 446.49L115.18 446.56L115.39 446.64L115.60 446.71L115.81 446.78L116.03 446.86L116.24 446.93L116.45 447.01L116.66 447.08L116.87 447.16L117.09 447.24L117.30 447.32L117.51 447.40L117.72 447.48L117.93 447.56L118.14 447.64L118.36 447.72L118.57 447.81L118.78 447.89L118.99 447.98L119.20 448.06L119.41 448.15L119.63 448.24L119.84 448.33L120.05 448.42L120.26 448.51L120.47 448.60L120.68 448.69L120.90 448.78L121.11 448.88L121.32 448.97L121.53 449.07L121.74 449.17L121.96 449.26L122.17 449.36L122.38 449.46L122.59 449.56L122.80 449.67L123.01 449.77L123.23 449.87L123.44 449.98L123.65 450.09L123.86 450.19L124.07 450.30L124.28 450.41L124.50 450.52L124.71 450.63L124.92 450.74L125.13 450.86L125.34 450.97L125.55 451.09L125.77 451.21L125.98 451.33L126.19 451.45L126.40 451.57L126.61 451.69L126.83 451.81L127.04 451.94L127.25 452.06L127.46 452.19L127.67 452.32L127.88 452.45L128.10 452.58L128.31 452.71L128.52 452.84L128.73 452.98L128.94 453.11L129.15 453.25L129.37 453.39L129.58 453.53L129.79 453.67L130.00 453.82L130.21 453.96L130.43 454.11L130.64 454.25L130.85 454.40L131.06 454.55L131.27 454.70L131.48 454.86L131.70 455.01L131.91 455.17L132.12 455.33L132.33 455.49L132.54 455.65L132.75 455.81L132.97 455.98L133.18 456.14L133.39 456.31L133.60 456.48L133.81 456.65L134.02 456.82L134.24 457.00L134.45 457.17L134.66 457.35L134.87 457.53L135.08 457.71L135.30 457.90L135.51 458.08L135.72 458.27L135.93 458.46L136.14 458.65L136.35 458.84L136.57 459.04L136.78 459.23L136.99 459.43L137.20 459.63L137.41 459.84L137.62 460.04L137.84 460.25L138.05 460.46L138.26 460.67L138.47 460.88L138.68 461.10L138.89 461.31L139.11 461.53L139.32 461.75L139.53 461.98L139.74 462.20L139.95 462.43L140.17 462.66L140.38 462.90L140.59 463.13L140.80 463.37L141.01 463.61L141.22 463.85L141.44 464.10L141.65 464.34L141.86 464.59L142.07 464.85L142.28 465.10L142.49 465.36L142.71 465.62L142.92 465.88L143.13 466.15L143.34 466.41L143.55 466.68L143.77 466.96L143.98 467.23L144.19 467.51L144.40 467.79L144.61 468.08L144.82 468.37L145.04 468.66L145.25 468.95L145.46 469.24L145.67 469.54L145.88 469.84L146.09 470.15L146.31 470.46L146.52 470.77L146.73 471.08L146.94 471.40L147.15 471.72L147.36 472.04L147.58 472.37L147.79 472.70L148.00 473.03L148.21 473.37L148.42 473.71L148.64 474.05L148.85 474.40L149.06 474.75L149.27 475.11L149.48 475.46L149.69 475.82L149.91 476.19L150.12 476.56L150.33 476.93L150.54 477.30L150.75 477.68L150.96 478.07L151.18 478.45L151.39 478.84L151.60 479.24L151.81 479.64L152.02 480.04L152.24 480.45L152.45 480.86L152.66 481.27L152.87 481.69L153.08 482.12L153.29 482.54L153.51 482.98L153.72 483.41L153.93 483.85L154.14 484.30L154.35 484.75L154.56 485.20L154.78 485.66L154.99 486.12L155.20 486.59L155.41 487.06L155.62 487.54L155.83 488.02L156.05 488.51L156.26 489.00L156.47 489.49L156.68 490.00L156.89 490.50L157.11 491.01L157.32 491.53L157.53 492.05L157.74 492.58L157.95 493.11L158.16 493.65L158.38 494.19L158.59 494.74L158.80 495.29L159.01 495.85L159.22 496.42L159.43 496.99L159.65 497.56L159.86 498.15L160.07 498.73L160.28 499.33L160.49 499.93L160.70 500.53L160.92 501.15L161.13 501.76L161.34 502.39L161.55 503.02L161.76 503.65L161.98 504.30L162.19 504.95L162.40 505.60L162.61 506.26L162.82 506.93L163.03 507.61L163.25 508.29L163.46 508.98L163.67 509.68L163.88 510.38L164.09 511.09L164.30 511.81L164.52 512.53L164.73 513.26L164.94 514.00L165.15 514.75L165.36 515.50L165.58 516.26L165.79 517.03L166.00 517.81L166.21 518.59L166.42 519.39L166.63 520.19L166.85 521.00L167.06 521.81L167.27 522.64L167.48 523.47L167.69 524.31L167.90 525.16L168.12 526.02L168.33 526.88L168.54 527.76L168.75 528.64L168.96 529.54L169.17 530.44L169.39 531.35L169.60 532.27L169.81 533.20L170.02 534.14L170.23 535.08L170.45 536.04L170.66 537.01L170.87 537.98L171.08 538.97L171.29 539.97L171.50 540.97L171.72 541.99L171.93 543.01L172.14 544.05L172.35 545.10L172.56 546.16L172.77 547.22L172.99 548.30L173.20 549.39L173.41 550.49L173.62 551.60L173.83 552.73L174.05 553.86L174.26 555.00L174.47 556.16L174.68 557.33L174.89 558.51L175.10 559.70L175.32 560.90L175.53 562.12L175.74 563.35L175.95 564.59L176.16 565.84L176.37 567.10L176.59 568.38L176.80 569.67L177.01 570.97L177.22 572.29L177.43 573.62L177.64 574.96L177.86 576.32L178.07 577.69L178.28 579.07L178.49 580.47L178.70 581.88L178.92 583.30L179.13 584.74L179.34 586.20L179.55 587.66L179.76 589.15L179.97 590.65L180.19 592.16L180.40 593.69" fill="none" stroke="#222" stroke-width="1.1" stroke-dasharray="6.5 8" clip-path="url(#cb0)"/>
<line x1="77.7" y1="426.5" x2="199.9" y2="521.4" stroke="#d94040" stroke-width="1.2"/>
<g fill="none" stroke="#2020ec" stroke-width="1.05"><circle cx="77.7" cy="431.1" r="3.5"/><circle cx="92.5" cy="436.9" r="3.5"/><circle cx="101.1" cy="439.6" r="3.5"/><circle cx="107.2" cy="443.0" r="3.5"/><circle cx="111.9" cy="445.6" r="3.5"/><circle cx="115.8" cy="448.3" r="3.5"/><circle cx="119.1" cy="450.6" r="3.5"/><circle cx="122.0" cy="452.9" r="3.5"/><circle cx="124.5" cy="455.4" r="3.5"/><circle cx="126.7" cy="457.9" r="3.5"/><circle cx="128.7" cy="460.4" r="3.5"/><circle cx="130.6" cy="462.7" r="3.5"/><circle cx="132.3" cy="464.9" r="3.5"/><circle cx="133.9" cy="467.5" r="3.5"/><circle cx="135.3" cy="469.9" r="3.5"/><circle cx="136.7" cy="472.2" r="3.5"/><circle cx="138.0" cy="474.4" r="3.5"/><circle cx="139.2" cy="476.8" r="3.5"/><circle cx="139.7" cy="479.1" r="3.5"/><circle cx="141.4" cy="481.3" r="3.5"/><circle cx="143.0" cy="483.5" r="3.5"/><circle cx="143.9" cy="485.7" r="3.5"/><circle cx="144.9" cy="488.0" r="3.5"/><circle cx="145.2" cy="489.9" r="3.5"/><circle cx="146.8" cy="491.6" r="3.5"/><circle cx="147.1" cy="493.2" r="3.5"/><circle cx="147.0" cy="494.6" r="3.5"/><circle cx="148.5" cy="495.9" r="3.5"/><circle cx="148.5" cy="497.2" r="3.5"/><circle cx="150.9" cy="498.6" r="3.5"/><circle cx="151.7" cy="500.0" r="3.5"/><circle cx="151.1" cy="501.3" r="3.5"/><circle cx="151.7" cy="502.6" r="3.5"/><circle cx="153.3" cy="503.9" r="3.5"/><circle cx="152.8" cy="505.1" r="3.5"/><circle cx="153.3" cy="506.3" r="3.5"/><circle cx="153.9" cy="507.5" r="3.5"/><circle cx="154.8" cy="508.7" r="3.5"/><circle cx="155.9" cy="509.8" r="3.5"/><circle cx="157.1" cy="510.9" r="3.5"/><circle cx="156.1" cy="511.9" r="3.5"/><circle cx="158.2" cy="513.0" r="3.5"/><circle cx="157.9" cy="514.0" r="3.5"/><circle cx="159.0" cy="515.1" r="3.5"/><circle cx="159.3" cy="516.3" r="3.5"/><circle cx="158.5" cy="517.4" r="3.5"/><circle cx="159.9" cy="518.5" r="3.5"/><circle cx="159.3" cy="519.6" r="3.5"/><circle cx="159.5" cy="520.7" r="3.5"/><circle cx="160.7" cy="521.7" r="3.5"/><circle cx="161.8" cy="522.5" r="3.5"/><circle cx="161.8" cy="523.3" r="3.5"/><circle cx="161.5" cy="524.1" r="3.5"/><circle cx="163.2" cy="525.0" r="3.5"/><circle cx="163.9" cy="526.0" r="3.5"/><circle cx="163.0" cy="526.9" r="3.5"/><circle cx="163.9" cy="528.0" r="3.5"/><circle cx="165.0" cy="529.1" r="3.5"/><circle cx="166.5" cy="530.2" r="3.5"/><circle cx="166.0" cy="531.5" r="3.5"/><circle cx="168.0" cy="532.8" r="3.5"/><circle cx="169.7" cy="534.2" r="3.5"/><circle cx="169.7" cy="535.7" r="3.5"/><circle cx="170.7" cy="537.4" r="3.5"/><circle cx="171.6" cy="539.2" r="3.5"/><circle cx="171.7" cy="541.2" r="3.5"/><circle cx="172.2" cy="543.5" r="3.5"/><circle cx="174.5" cy="546.0" r="3.5"/><circle cx="175.9" cy="549.0" r="3.5"/><circle cx="176.5" cy="552.4" r="3.5"/><circle cx="191.5" cy="556.6" r="3.5"/><circle cx="192.0" cy="562.2" r="3.5"/><circle cx="194.5" cy="570.0" r="3.5"/><circle cx="199.9" cy="583.2" r="3.5"/></g>
<clipPath id="cb1"><rect x="282.6" y="406.7" width="147.5" height="176.50000000000006"/></clipPath>
<path d="M282.60 435.30L282.81 435.32L283.02 435.33L283.24 435.35L283.45 435.37L283.66 435.38L283.87 435.40L284.08 435.42L284.29 435.44L284.51 435.46L284.72 435.47L284.93 435.49L285.14 435.51L285.35 435.53L285.56 435.55L285.78 435.57L285.99 435.59L286.20 435.61L286.41 435.63L286.62 435.65L286.83 435.67L287.05 435.69L287.26 435.71L287.47 435.73L287.68 435.75L287.89 435.77L288.11 435.79L288.32 435.81L288.53 435.83L288.74 435.85L288.95 435.88L289.16 435.90L289.38 435.92L289.59 435.94L289.80 435.97L290.01 435.99L290.22 436.01L290.43 436.04L290.65 436.06L290.86 436.09L291.07 436.11L291.28 436.14L291.49 436.16L291.71 436.19L291.92 436.21L292.13 436.24L292.34 436.26L292.55 436.29L292.76 436.32L292.98 436.34L293.19 436.37L293.40 436.40L293.61 436.42L293.82 436.45L294.03 436.48L294.25 436.51L294.46 436.54L294.67 436.57L294.88 436.60L295.09 436.62L295.30 436.65L295.52 436.68L295.73 436.72L295.94 436.75L296.15 436.78L296.36 436.81L296.58 436.84L296.79 436.87L297.00 436.90L297.21 436.94L297.42 436.97L297.63 437.00L297.85 437.04L298.06 437.07L298.27 437.10L298.48 437.14L298.69 437.17L298.90 437.21L299.12 437.25L299.33 437.28L299.54 437.32L299.75 437.35L299.96 437.39L300.18 437.43L300.39 437.47L300.60 437.51L300.81 437.54L301.02 437.58L301.23 437.62L301.45 437.66L301.66 437.70L301.87 437.74L302.08 437.78L302.29 437.83L302.50 437.87L302.72 437.91L302.93 437.95L303.14 438.00L303.35 438.04L303.56 438.08L303.77 438.13L303.99 438.17L304.20 438.22L304.41 438.26L304.62 438.31L304.83 438.36L305.05 438.40L305.26 438.45L305.47 438.50L305.68 438.55L305.89 438.60L306.10 438.65L306.32 438.70L306.53 438.75L306.74 438.80L306.95 438.85L307.16 438.90L307.37 438.95L307.59 439.01L307.80 439.06L308.01 439.12L308.22 439.17L308.43 439.23L308.64 439.28L308.86 439.34L309.07 439.39L309.28 439.45L309.49 439.51L309.70 439.57L309.92 439.63L310.13 439.69L310.34 439.75L310.55 439.81L310.76 439.87L310.97 439.93L311.19 440.00L311.40 440.06L311.61 440.12L311.82 440.19L312.03 440.25L312.24 440.32L312.46 440.39L312.67 440.45L312.88 440.52L313.09 440.59L313.30 440.66L313.52 440.73L313.73 440.80L313.94 440.87L314.15 440.95L314.36 441.02L314.57 441.09L314.79 441.17L315.00 441.24L315.21 441.32L315.42 441.40L315.63 441.47L315.84 441.55L316.06 441.63L316.27 441.71L316.48 441.79L316.69 441.87L316.90 441.95L317.11 442.04L317.33 442.12L317.54 442.21L317.75 442.29L317.96 442.38L318.17 442.47L318.39 442.55L318.60 442.64L318.81 442.73L319.02 442.82L319.23 442.92L319.44 443.01L319.66 443.10L319.87 443.20L320.08 443.29L320.29 443.39L320.50 443.49L320.71 443.59L320.93 443.68L321.14 443.79L321.35 443.89L321.56 443.99L321.77 444.09L321.99 444.20L322.20 444.30L322.41 444.41L322.62 444.52L322.83 444.63L323.04 444.74L323.26 444.85L323.47 444.96L323.68 445.07L323.89 445.19L324.10 445.30L324.31 445.42L324.53 445.54L324.74 445.65L324.95 445.77L325.16 445.90L325.37 446.02L325.58 446.14L325.80 446.27L326.01 446.39L326.22 446.52L326.43 446.65L326.64 446.78L326.86 446.91L327.07 447.04L327.28 447.18L327.49 447.31L327.70 447.45L327.91 447.59L328.13 447.73L328.34 447.87L328.55 448.01L328.76 448.15L328.97 448.30L329.18 448.45L329.40 448.59L329.61 448.74L329.82 448.90L330.03 449.05L330.24 449.20L330.45 449.36L330.67 449.51L330.88 449.67L331.09 449.83L331.30 450.00L331.51 450.16L331.73 450.32L331.94 450.49L332.15 450.66L332.36 450.83L332.57 451.00L332.78 451.18L333.00 451.35L333.21 451.53L333.42 451.71L333.63 451.89L333.84 452.07L334.05 452.25L334.27 452.44L334.48 452.63L334.69 452.82L334.90 453.01L335.11 453.20L335.33 453.40L335.54 453.60L335.75 453.80L335.96 454.00L336.17 454.20L336.38 454.41L336.60 454.61L336.81 454.82L337.02 455.04L337.23 455.25L337.44 455.47L337.65 455.68L337.87 455.90L338.08 456.13L338.29 456.35L338.50 456.58L338.71 456.81L338.92 457.04L339.14 457.27L339.35 457.51L339.56 457.75L339.77 457.99L339.98 458.23L340.20 458.48L340.41 458.73L340.62 458.98L340.83 459.23L341.04 459.49L341.25 459.75L341.47 460.01L341.68 460.27L341.89 460.54L342.10 460.81L342.31 461.08L342.52 461.35L342.74 461.63L342.95 461.91L343.16 462.19L343.37 462.48L343.58 462.77L343.79 463.06L344.01 463.35L344.22 463.65L344.43 463.95L344.64 464.25L344.85 464.56L345.07 464.87L345.28 465.18L345.49 465.50L345.70 465.81L345.91 466.14L346.12 466.46L346.34 466.79L346.55 467.12L346.76 467.45L346.97 467.79L347.18 468.13L347.39 468.48L347.61 468.83L347.82 469.18L348.03 469.53L348.24 469.89L348.45 470.26L348.67 470.62L348.88 470.99L349.09 471.37L349.30 471.74L349.51 472.12L349.72 472.51L349.94 472.90L350.15 473.29L350.36 473.69L350.57 474.09L350.78 474.49L350.99 474.90L351.21 475.31L351.42 475.73L351.63 476.15L351.84 476.58L352.05 477.00L352.26 477.44L352.48 477.88L352.69 478.32L352.90 478.77L353.11 479.22L353.32 479.67L353.54 480.13L353.75 480.60L353.96 481.07L354.17 481.54L354.38 482.02L354.59 482.50L354.81 482.99L355.02 483.49L355.23 483.98L355.44 484.49L355.65 485.00L355.86 485.51L356.08 486.03L356.29 486.55L356.50 487.08L356.71 487.62L356.92 488.16L357.14 488.70L357.35 489.25L357.56 489.81L357.77 490.37L357.98 490.94L358.19 491.51L358.41 492.09L358.62 492.67L358.83 493.26L359.04 493.86L359.25 494.46L359.46 495.07L359.68 495.68L359.89 496.30L360.10 496.93L360.31 497.56L360.52 498.20L360.73 498.85L360.95 499.50L361.16 500.16L361.37 500.82L361.58 501.50L361.79 502.18L362.01 502.86L362.22 503.55L362.43 504.25L362.64 504.96L362.85 505.67L363.06 506.39L363.28 507.12L363.49 507.85L363.70 508.60L363.91 509.35L364.12 510.10L364.33 510.87L364.55 511.64L364.76 512.42L364.97 513.21L365.18 514.00L365.39 514.81L365.60 515.62L365.82 516.44L366.03 517.27L366.24 518.10L366.45 518.95L366.66 519.80L366.88 520.66L367.09 521.53L367.30 522.41L367.51 523.30L367.72 524.19L367.93 525.10L368.15 526.01L368.36 526.94L368.57 527.87L368.78 528.81L368.99 529.77L369.20 530.73L369.42 531.70L369.63 532.68L369.84 533.67L370.05 534.67L370.26 535.68L370.48 536.70L370.69 537.73L370.90 538.77L371.11 539.82L371.32 540.88L371.53 541.96L371.75 543.04L371.96 544.13L372.17 545.24L372.38 546.35L372.59 547.48L372.80 548.62L373.02 549.77L373.23 550.93L373.44 552.10L373.65 553.29L373.86 554.48L374.07 555.69L374.29 556.91L374.50 558.15L374.71 559.39L374.92 560.65L375.13 561.92L375.35 563.20L375.56 564.50L375.77 565.81L375.98 567.13L376.19 568.46L376.40 569.81L376.62 571.17L376.83 572.55L377.04 573.94L377.25 575.34L377.46 576.76L377.67 578.19L377.89 579.63L378.10 581.09L378.31 582.57L378.52 584.06L378.73 585.56L378.95 587.08L379.16 588.61L379.37 590.16L379.58 591.73L379.79 593.31" fill="none" stroke="#222" stroke-width="1.1" stroke-dasharray="6.5 8" clip-path="url(#cb1)"/>
<line x1="282.6" y1="422.5" x2="402.8" y2="527.8" stroke="#d94040" stroke-width="1.2"/>
<g fill="none" stroke="#2020ec" stroke-width="1.05"><circle cx="282.6" cy="425.7" r="3.5"/><circle cx="297.4" cy="433.2" r="3.5"/><circle cx="306.0" cy="439.0" r="3.5"/><circle cx="312.1" cy="444.6" r="3.5"/><circle cx="316.8" cy="448.5" r="3.5"/><circle cx="320.7" cy="452.0" r="3.5"/><circle cx="324.0" cy="454.9" r="3.5"/><circle cx="326.9" cy="457.4" r="3.5"/><circle cx="329.4" cy="459.6" r="3.5"/><circle cx="331.6" cy="461.5" r="3.5"/><circle cx="333.6" cy="463.4" r="3.5"/><circle cx="335.5" cy="466.2" r="3.5"/><circle cx="337.2" cy="468.8" r="3.5"/><circle cx="338.8" cy="471.2" r="3.5"/><circle cx="340.2" cy="473.4" r="3.5"/><circle cx="341.6" cy="475.4" r="3.5"/><circle cx="342.9" cy="477.4" r="3.5"/><circle cx="344.3" cy="479.5" r="3.5"/><circle cx="344.6" cy="481.5" r="3.5"/><circle cx="347.3" cy="483.4" r="3.5"/><circle cx="348.2" cy="485.2" r="3.5"/><circle cx="348.3" cy="486.9" r="3.5"/><circle cx="349.7" cy="488.6" r="3.5"/><circle cx="349.7" cy="490.2" r="3.5"/><circle cx="350.5" cy="491.7" r="3.5"/><circle cx="351.5" cy="493.1" r="3.5"/><circle cx="353.1" cy="494.6" r="3.5"/><circle cx="352.9" cy="496.1" r="3.5"/><circle cx="355.2" cy="497.6" r="3.5"/><circle cx="354.1" cy="499.0" r="3.5"/><circle cx="355.1" cy="500.4" r="3.5"/><circle cx="355.5" cy="501.7" r="3.5"/><circle cx="357.5" cy="502.9" r="3.5"/><circle cx="357.4" cy="504.2" r="3.5"/><circle cx="358.2" cy="505.4" r="3.5"/><circle cx="358.5" cy="506.5" r="3.5"/><circle cx="359.7" cy="507.7" r="3.5"/><circle cx="359.8" cy="508.8" r="3.5"/><circle cx="360.0" cy="509.9" r="3.5"/><circle cx="361.0" cy="511.0" r="3.5"/><circle cx="361.2" cy="512.1" r="3.5"/><circle cx="361.4" cy="513.1" r="3.5"/><circle cx="363.3" cy="514.1" r="3.5"/><circle cx="363.5" cy="515.1" r="3.5"/><circle cx="363.9" cy="516.1" r="3.5"/><circle cx="364.8" cy="517.0" r="3.5"/><circle cx="364.3" cy="518.0" r="3.5"/><circle cx="364.7" cy="518.9" r="3.5"/><circle cx="365.3" cy="519.7" r="3.5"/><circle cx="365.7" cy="520.6" r="3.5"/><circle cx="366.6" cy="521.4" r="3.5"/><circle cx="365.4" cy="521.7" r="3.5"/><circle cx="366.7" cy="522.5" r="3.5"/><circle cx="367.3" cy="523.3" r="3.5"/><circle cx="367.3" cy="524.1" r="3.5"/><circle cx="367.1" cy="525.0" r="3.5"/><circle cx="368.9" cy="526.0" r="3.5"/><circle cx="368.0" cy="526.9" r="3.5"/><circle cx="369.7" cy="528.0" r="3.5"/><circle cx="369.4" cy="529.1" r="3.5"/><circle cx="369.8" cy="530.2" r="3.5"/><circle cx="371.0" cy="531.5" r="3.5"/><circle cx="371.8" cy="532.8" r="3.5"/><circle cx="373.1" cy="534.2" r="3.5"/><circle cx="375.4" cy="535.7" r="3.5"/><circle cx="376.6" cy="537.4" r="3.5"/><circle cx="377.0" cy="539.2" r="3.5"/><circle cx="378.8" cy="541.2" r="3.5"/><circle cx="379.4" cy="543.5" r="3.5"/><circle cx="380.5" cy="546.0" r="3.5"/><circle cx="382.3" cy="549.0" r="3.5"/><circle cx="382.3" cy="552.4" r="3.5"/><circle cx="385.6" cy="556.6" r="3.5"/><circle cx="385.0" cy="562.2" r="3.5"/><circle cx="392.4" cy="570.0" r="3.5"/><circle cx="403.0" cy="583.2" r="3.5"/></g>
<clipPath id="cb2"><rect x="490.8" y="406.7" width="147.5" height="176.50000000000006"/></clipPath>
<path d="M490.80 430.40L491.01 430.41L491.22 430.42L491.44 430.44L491.65 430.45L491.86 430.46L492.07 430.47L492.28 430.48L492.49 430.50L492.71 430.51L492.92 430.52L493.13 430.53L493.34 430.55L493.55 430.56L493.76 430.57L493.98 430.59L494.19 430.60L494.40 430.62L494.61 430.63L494.82 430.64L495.03 430.66L495.25 430.67L495.46 430.69L495.67 430.70L495.88 430.71L496.09 430.73L496.31 430.74L496.52 430.76L496.73 430.77L496.94 430.79L497.15 430.81L497.36 430.82L497.58 430.84L497.79 430.85L498.00 430.87L498.21 430.89L498.42 430.90L498.63 430.92L498.85 430.94L499.06 430.95L499.27 430.97L499.48 430.99L499.69 431.01L499.91 431.02L500.12 431.04L500.33 431.06L500.54 431.08L500.75 431.10L500.96 431.11L501.18 431.13L501.39 431.15L501.60 431.17L501.81 431.19L502.02 431.21L502.23 431.23L502.45 431.25L502.66 431.27L502.87 431.29L503.08 431.31L503.29 431.33L503.50 431.35L503.72 431.37L503.93 431.40L504.14 431.42L504.35 431.44L504.56 431.46L504.78 431.48L504.99 431.51L505.20 431.53L505.41 431.55L505.62 431.57L505.83 431.60L506.05 431.62L506.26 431.65L506.47 431.67L506.68 431.69L506.89 431.72L507.10 431.74L507.32 431.77L507.53 431.79L507.74 431.82L507.95 431.85L508.16 431.87L508.38 431.90L508.59 431.92L508.80 431.95L509.01 431.98L509.22 432.01L509.43 432.03L509.65 432.06L509.86 432.09L510.07 432.12L510.28 432.15L510.49 432.18L510.70 432.21L510.92 432.24L511.13 432.27L511.34 432.30L511.55 432.33L511.76 432.36L511.97 432.39L512.19 432.42L512.40 432.45L512.61 432.48L512.82 432.52L513.03 432.55L513.25 432.58L513.46 432.62L513.67 432.65L513.88 432.68L514.09 432.72L514.30 432.75L514.52 432.79L514.73 432.83L514.94 432.86L515.15 432.90L515.36 432.93L515.57 432.97L515.79 433.01L516.00 433.05L516.21 433.08L516.42 433.12L516.63 433.16L516.84 433.20L517.06 433.24L517.27 433.28L517.48 433.32L517.69 433.36L517.90 433.40L518.12 433.45L518.33 433.49L518.54 433.53L518.75 433.57L518.96 433.62L519.17 433.66L519.39 433.70L519.60 433.75L519.81 433.79L520.02 433.84L520.23 433.89L520.44 433.93L520.66 433.98L520.87 434.03L521.08 434.07L521.29 434.12L521.50 434.17L521.72 434.22L521.93 434.27L522.14 434.32L522.35 434.37L522.56 434.42L522.77 434.48L522.99 434.53L523.20 434.58L523.41 434.63L523.62 434.69L523.83 434.74L524.04 434.80L524.26 434.85L524.47 434.91L524.68 434.97L524.89 435.02L525.10 435.08L525.31 435.14L525.53 435.20L525.74 435.26L525.95 435.32L526.16 435.38L526.37 435.44L526.59 435.50L526.80 435.57L527.01 435.63L527.22 435.69L527.43 435.76L527.64 435.82L527.86 435.89L528.07 435.96L528.28 436.02L528.49 436.09L528.70 436.16L528.91 436.23L529.13 436.30L529.34 436.37L529.55 436.44L529.76 436.51L529.97 436.59L530.19 436.66L530.40 436.73L530.61 436.81L530.82 436.88L531.03 436.96L531.24 437.04L531.46 437.12L531.67 437.20L531.88 437.28L532.09 437.36L532.30 437.44L532.51 437.52L532.73 437.60L532.94 437.69L533.15 437.77L533.36 437.86L533.57 437.94L533.78 438.03L534.00 438.12L534.21 438.21L534.42 438.30L534.63 438.39L534.84 438.48L535.06 438.57L535.27 438.66L535.48 438.76L535.69 438.85L535.90 438.95L536.11 439.05L536.33 439.14L536.54 439.24L536.75 439.34L536.96 439.44L537.17 439.55L537.38 439.65L537.60 439.75L537.81 439.86L538.02 439.97L538.23 440.07L538.44 440.18L538.65 440.29L538.87 440.40L539.08 440.51L539.29 440.63L539.50 440.74L539.71 440.85L539.93 440.97L540.14 441.09L540.35 441.21L540.56 441.33L540.77 441.45L540.98 441.57L541.20 441.69L541.41 441.82L541.62 441.94L541.83 442.07L542.04 442.20L542.25 442.33L542.47 442.46L542.68 442.59L542.89 442.73L543.10 442.86L543.31 443.00L543.53 443.13L543.74 443.27L543.95 443.41L544.16 443.56L544.37 443.70L544.58 443.84L544.80 443.99L545.01 444.14L545.22 444.29L545.43 444.44L545.64 444.59L545.85 444.74L546.07 444.90L546.28 445.05L546.49 445.21L546.70 445.37L546.91 445.53L547.12 445.70L547.34 445.86L547.55 446.03L547.76 446.19L547.97 446.36L548.18 446.54L548.40 446.71L548.61 446.88L548.82 447.06L549.03 447.24L549.24 447.42L549.45 447.60L549.67 447.78L549.88 447.97L550.09 448.16L550.30 448.35L550.51 448.54L550.72 448.73L550.94 448.93L551.15 449.12L551.36 449.32L551.57 449.52L551.78 449.72L551.99 449.93L552.21 450.14L552.42 450.35L552.63 450.56L552.84 450.77L553.05 450.99L553.27 451.20L553.48 451.42L553.69 451.64L553.90 451.87L554.11 452.09L554.32 452.32L554.54 452.55L554.75 452.79L554.96 453.02L555.17 453.26L555.38 453.50L555.59 453.74L555.81 453.99L556.02 454.24L556.23 454.49L556.44 454.74L556.65 454.99L556.87 455.25L557.08 455.51L557.29 455.77L557.50 456.04L557.71 456.31L557.92 456.58L558.14 456.85L558.35 457.13L558.56 457.41L558.77 457.69L558.98 457.97L559.19 458.26L559.41 458.55L559.62 458.84L559.83 459.14L560.04 459.44L560.25 459.74L560.46 460.05L560.68 460.36L560.89 460.67L561.10 460.98L561.31 461.30L561.52 461.62L561.74 461.94L561.95 462.27L562.16 462.60L562.37 462.93L562.58 463.27L562.79 463.61L563.01 463.96L563.22 464.30L563.43 464.65L563.64 465.01L563.85 465.37L564.06 465.73L564.28 466.09L564.49 466.46L564.70 466.83L564.91 467.21L565.12 467.59L565.34 467.97L565.55 468.36L565.76 468.75L565.97 469.15L566.18 469.54L566.39 469.95L566.61 470.35L566.82 470.77L567.03 471.18L567.24 471.60L567.45 472.02L567.66 472.45L567.88 472.88L568.09 473.32L568.30 473.76L568.51 474.21L568.72 474.66L568.93 475.11L569.15 475.57L569.36 476.03L569.57 476.50L569.78 476.97L569.99 477.45L570.21 477.93L570.42 478.42L570.63 478.91L570.84 479.41L571.05 479.91L571.26 480.42L571.48 480.93L571.69 481.45L571.90 481.97L572.11 482.50L572.32 483.03L572.53 483.57L572.75 484.11L572.96 484.66L573.17 485.21L573.38 485.77L573.59 486.34L573.80 486.91L574.02 487.49L574.23 488.07L574.44 488.66L574.65 489.25L574.86 489.85L575.08 490.46L575.29 491.07L575.50 491.69L575.71 492.31L575.92 492.94L576.13 493.58L576.35 494.22L576.56 494.87L576.77 495.53L576.98 496.19L577.19 496.86L577.40 497.54L577.62 498.22L577.83 498.91L578.04 499.61L578.25 500.31L578.46 501.02L578.68 501.74L578.89 502.47L579.10 503.20L579.31 503.94L579.52 504.69L579.73 505.44L579.95 506.20L580.16 506.97L580.37 507.75L580.58 508.53L580.79 509.33L581.00 510.13L581.22 510.94L581.43 511.75L581.64 512.58L581.85 513.41L582.06 514.26L582.27 515.11L582.49 515.96L582.70 516.83L582.91 517.71L583.12 518.59L583.33 519.49L583.55 520.39L583.76 521.30L583.97 522.22L584.18 523.15L584.39 524.09L584.60 525.04L584.82 526.00L585.03 526.96L585.24 527.94L585.45 528.93L585.66 529.93L585.87 530.93L586.09 531.95L586.30 532.98L586.51 534.01L586.72 535.06L586.93 536.12L587.15 537.19L587.36 538.27L587.57 539.36L587.78 540.46L587.99 541.57L588.20 542.70L588.42 543.83L588.63 544.98L588.84 546.13L589.05 547.30L589.26 548.48L589.47 549.68L589.69 550.88L589.90 552.10L590.11 553.33L590.32 554.57L590.53 555.82L590.74 557.09L590.96 558.36L591.17 559.65L591.38 560.96L591.59 562.28L591.80 563.61L592.02 564.95L592.23 566.31L592.44 567.68L592.65 569.06L592.86 570.46L593.07 571.87L593.29 573.30L593.50 574.74L593.71 576.20L593.92 577.67L594.13 579.15L594.34 580.65L594.56 582.16L594.77 583.69L594.98 585.24L595.19 586.80L595.40 588.37L595.61 589.96L595.83 591.57L596.04 593.19L596.25 594.83" fill="none" stroke="#222" stroke-width="1.1" stroke-dasharray="6.5 8" clip-path="url(#cb2)"/>
<line x1="490.8" y1="416.4" x2="613.7" y2="508.2" stroke="#d94040" stroke-width="1.2"/>
<g fill="none" stroke="#2020ec" stroke-width="1.05"><circle cx="490.8" cy="422.2" r="3.5"/><circle cx="505.6" cy="426.9" r="3.5"/><circle cx="514.2" cy="430.4" r="3.5"/><circle cx="520.3" cy="433.8" r="3.5"/><circle cx="525.0" cy="437.4" r="3.5"/><circle cx="528.9" cy="440.3" r="3.5"/><circle cx="532.2" cy="442.4" r="3.5"/><circle cx="535.1" cy="444.2" r="3.5"/><circle cx="537.6" cy="445.7" r="3.5"/><circle cx="539.8" cy="447.6" r="3.5"/><circle cx="541.8" cy="450.1" r="3.5"/><circle cx="543.7" cy="452.5" r="3.5"/><circle cx="545.4" cy="454.6" r="3.5"/><circle cx="547.0" cy="456.6" r="3.5"/><circle cx="548.4" cy="458.4" r="3.5"/><circle cx="549.8" cy="460.2" r="3.5"/><circle cx="551.1" cy="461.8" r="3.5"/><circle cx="552.3" cy="463.3" r="3.5"/><circle cx="553.5" cy="464.8" r="3.5"/><circle cx="554.6" cy="466.1" r="3.5"/><circle cx="555.6" cy="467.4" r="3.5"/><circle cx="556.6" cy="468.7" r="3.5"/><circle cx="557.5" cy="469.9" r="3.5"/><circle cx="558.4" cy="471.7" r="3.5"/><circle cx="559.3" cy="473.7" r="3.5"/><circle cx="560.1" cy="475.6" r="3.5"/><circle cx="560.9" cy="477.4" r="3.5"/><circle cx="561.0" cy="479.1" r="3.5"/><circle cx="562.7" cy="480.8" r="3.5"/><circle cx="562.5" cy="482.4" r="3.5"/><circle cx="564.3" cy="483.9" r="3.5"/><circle cx="564.8" cy="485.0" r="3.5"/><circle cx="565.0" cy="486.1" r="3.5"/><circle cx="566.1" cy="487.2" r="3.5"/><circle cx="566.6" cy="488.2" r="3.5"/><circle cx="566.1" cy="489.2" r="3.5"/><circle cx="567.7" cy="490.2" r="3.5"/><circle cx="568.4" cy="491.1" r="3.5"/><circle cx="568.8" cy="492.0" r="3.5"/><circle cx="570.1" cy="492.9" r="3.5"/><circle cx="570.3" cy="493.8" r="3.5"/><circle cx="570.1" cy="494.6" r="3.5"/><circle cx="570.3" cy="495.5" r="3.5"/><circle cx="570.6" cy="496.3" r="3.5"/><circle cx="572.4" cy="497.1" r="3.5"/><circle cx="572.7" cy="497.9" r="3.5"/><circle cx="573.0" cy="498.6" r="3.5"/><circle cx="573.1" cy="499.4" r="3.5"/><circle cx="573.6" cy="500.1" r="3.5"/><circle cx="573.5" cy="500.9" r="3.5"/><circle cx="574.5" cy="501.6" r="3.5"/><circle cx="574.2" cy="502.3" r="3.5"/><circle cx="575.5" cy="502.9" r="3.5"/><circle cx="575.9" cy="503.6" r="3.5"/><circle cx="576.4" cy="504.3" r="3.5"/><circle cx="576.0" cy="504.9" r="3.5"/><circle cx="576.0" cy="505.5" r="3.5"/><circle cx="576.9" cy="506.2" r="3.5"/><circle cx="577.9" cy="506.8" r="3.5"/><circle cx="577.9" cy="507.4" r="3.5"/><circle cx="578.8" cy="508.0" r="3.5"/><circle cx="578.5" cy="508.5" r="3.5"/><circle cx="578.8" cy="509.2" r="3.5"/><circle cx="580.1" cy="509.9" r="3.5"/><circle cx="579.0" cy="510.6" r="3.5"/><circle cx="579.4" cy="511.4" r="3.5"/><circle cx="580.5" cy="512.1" r="3.5"/><circle cx="580.9" cy="512.8" r="3.5"/><circle cx="580.8" cy="513.5" r="3.5"/><circle cx="581.3" cy="514.2" r="3.5"/><circle cx="581.4" cy="514.8" r="3.5"/><circle cx="582.1" cy="515.5" r="3.5"/><circle cx="582.9" cy="516.2" r="3.5"/><circle cx="583.0" cy="516.8" r="3.5"/><circle cx="583.0" cy="517.4" r="3.5"/><circle cx="582.9" cy="518.1" r="3.5"/><circle cx="584.1" cy="518.7" r="3.5"/><circle cx="583.4" cy="519.3" r="3.5"/><circle cx="584.0" cy="519.9" r="3.5"/><circle cx="584.8" cy="520.5" r="3.5"/><circle cx="584.7" cy="521.2" r="3.5"/><circle cx="584.3" cy="521.7" r="3.5"/><circle cx="585.3" cy="522.5" r="3.5"/><circle cx="585.3" cy="523.3" r="3.5"/><circle cx="586.2" cy="524.1" r="3.5"/><circle cx="586.0" cy="525.0" r="3.5"/><circle cx="586.2" cy="526.0" r="3.5"/><circle cx="587.4" cy="526.9" r="3.5"/><circle cx="586.9" cy="528.0" r="3.5"/><circle cx="587.1" cy="529.1" r="3.5"/><circle cx="588.6" cy="530.2" r="3.5"/><circle cx="589.2" cy="531.5" r="3.5"/><circle cx="588.3" cy="532.8" r="3.5"/><circle cx="588.8" cy="534.2" r="3.5"/><circle cx="591.1" cy="535.7" r="3.5"/><circle cx="592.0" cy="537.4" r="3.5"/><circle cx="591.9" cy="539.2" r="3.5"/><circle cx="592.8" cy="541.2" r="3.5"/><circle cx="594.9" cy="543.5" r="3.5"/><circle cx="602.9" cy="545.6" r="3.5"/><circle cx="603.5" cy="549.0" r="3.5"/><circle cx="606.0" cy="552.4" r="3.5"/><circle cx="606.0" cy="556.6" r="3.5"/><circle cx="609.2" cy="562.2" r="3.5"/><circle cx="611.1" cy="570.0" r="3.5"/><circle cx="613.0" cy="583.2" r="3.5"/></g>
<clipPath id="cb3"><rect x="77.7" y="627.9" width="147.5" height="176.20000000000005"/></clipPath>
<path d="M77.70 659.70L77.91 659.72L78.12 659.75L78.34 659.77L78.55 659.80L78.76 659.82L78.97 659.85L79.18 659.87L79.39 659.90L79.61 659.92L79.82 659.95L80.03 659.97L80.24 660.00L80.45 660.03L80.66 660.05L80.88 660.08L81.09 660.11L81.30 660.14L81.51 660.16L81.72 660.19L81.93 660.22L82.15 660.25L82.36 660.28L82.57 660.31L82.78 660.34L82.99 660.37L83.21 660.40L83.42 660.43L83.63 660.46L83.84 660.49L84.05 660.52L84.26 660.56L84.48 660.59L84.69 660.62L84.90 660.65L85.11 660.69L85.32 660.72L85.53 660.75L85.75 660.79L85.96 660.82L86.17 660.86L86.38 660.89L86.59 660.93L86.81 660.97L87.02 661.00L87.23 661.04L87.44 661.08L87.65 661.11L87.86 661.15L88.08 661.19L88.29 661.23L88.50 661.27L88.71 661.31L88.92 661.35L89.13 661.39L89.35 661.43L89.56 661.47L89.77 661.51L89.98 661.55L90.19 661.59L90.40 661.64L90.62 661.68L90.83 661.72L91.04 661.77L91.25 661.81L91.46 661.86L91.68 661.90L91.89 661.95L92.10 661.99L92.31 662.04L92.52 662.09L92.73 662.13L92.95 662.18L93.16 662.23L93.37 662.28L93.58 662.33L93.79 662.38L94.00 662.43L94.22 662.48L94.43 662.53L94.64 662.58L94.85 662.64L95.06 662.69L95.28 662.74L95.49 662.80L95.70 662.85L95.91 662.91L96.12 662.96L96.33 663.02L96.55 663.08L96.76 663.13L96.97 663.19L97.18 663.25L97.39 663.31L97.60 663.37L97.82 663.43L98.03 663.49L98.24 663.55L98.45 663.61L98.66 663.68L98.87 663.74L99.09 663.81L99.30 663.87L99.51 663.94L99.72 664.00L99.93 664.07L100.15 664.14L100.36 664.20L100.57 664.27L100.78 664.34L100.99 664.41L101.20 664.48L101.42 664.55L101.63 664.63L101.84 664.70L102.05 664.77L102.26 664.85L102.47 664.92L102.69 665.00L102.90 665.08L103.11 665.15L103.32 665.23L103.53 665.31L103.74 665.39L103.96 665.47L104.17 665.55L104.38 665.63L104.59 665.72L104.80 665.80L105.02 665.89L105.23 665.97L105.44 666.06L105.65 666.14L105.86 666.23L106.07 666.32L106.29 666.41L106.50 666.50L106.71 666.59L106.92 666.69L107.13 666.78L107.34 666.88L107.56 666.97L107.77 667.07L107.98 667.16L108.19 667.26L108.40 667.36L108.62 667.46L108.83 667.56L109.04 667.67L109.25 667.77L109.46 667.87L109.67 667.98L109.89 668.09L110.10 668.19L110.31 668.30L110.52 668.41L110.73 668.52L110.94 668.63L111.16 668.75L111.37 668.86L111.58 668.98L111.79 669.09L112.00 669.21L112.21 669.33L112.43 669.45L112.64 669.57L112.85 669.69L113.06 669.82L113.27 669.94L113.49 670.07L113.70 670.20L113.91 670.32L114.12 670.45L114.33 670.59L114.54 670.72L114.76 670.85L114.97 670.99L115.18 671.12L115.39 671.26L115.60 671.40L115.81 671.54L116.03 671.68L116.24 671.83L116.45 671.97L116.66 672.12L116.87 672.27L117.09 672.42L117.30 672.57L117.51 672.72L117.72 672.87L117.93 673.03L118.14 673.19L118.36 673.34L118.57 673.50L118.78 673.67L118.99 673.83L119.20 673.99L119.41 674.16L119.63 674.33L119.84 674.50L120.05 674.67L120.26 674.84L120.47 675.02L120.68 675.20L120.90 675.37L121.11 675.56L121.32 675.74L121.53 675.92L121.74 676.11L121.96 676.30L122.17 676.49L122.38 676.68L122.59 676.87L122.80 677.07L123.01 677.26L123.23 677.46L123.44 677.66L123.65 677.87L123.86 678.07L124.07 678.28L124.28 678.49L124.50 678.70L124.71 678.91L124.92 679.13L125.13 679.35L125.34 679.57L125.55 679.79L125.77 680.02L125.98 680.24L126.19 680.47L126.40 680.70L126.61 680.94L126.83 681.17L127.04 681.41L127.25 681.65L127.46 681.90L127.67 682.14L127.88 682.39L128.10 682.64L128.31 682.89L128.52 683.15L128.73 683.41L128.94 683.67L129.15 683.93L129.37 684.20L129.58 684.47L129.79 684.74L130.00 685.01L130.21 685.29L130.43 685.57L130.64 685.85L130.85 686.13L131.06 686.42L131.27 686.71L131.48 687.01L131.70 687.30L131.91 687.60L132.12 687.91L132.33 688.21L132.54 688.52L132.75 688.83L132.97 689.15L133.18 689.47L133.39 689.79L133.60 690.11L133.81 690.44L134.02 690.77L134.24 691.11L134.45 691.44L134.66 691.78L134.87 692.13L135.08 692.48L135.30 692.83L135.51 693.18L135.72 693.54L135.93 693.90L136.14 694.27L136.35 694.64L136.57 695.01L136.78 695.39L136.99 695.77L137.20 696.15L137.41 696.54L137.62 696.93L137.84 697.33L138.05 697.73L138.26 698.13L138.47 698.54L138.68 698.95L138.89 699.37L139.11 699.79L139.32 700.22L139.53 700.65L139.74 701.08L139.95 701.52L140.17 701.96L140.38 702.40L140.59 702.85L140.80 703.31L141.01 703.77L141.22 704.23L141.44 704.70L141.65 705.18L141.86 705.66L142.07 706.14L142.28 706.63L142.49 707.12L142.71 707.62L142.92 708.12L143.13 708.63L143.34 709.14L143.55 709.66L143.77 710.18L143.98 710.71L144.19 711.25L144.40 711.78L144.61 712.33L144.82 712.88L145.04 713.43L145.25 714.00L145.46 714.56L145.67 715.13L145.88 715.71L146.09 716.30L146.31 716.89L146.52 717.48L146.73 718.08L146.94 718.69L147.15 719.30L147.36 719.92L147.58 720.55L147.79 721.18L148.00 721.82L148.21 722.47L148.42 723.12L148.64 723.77L148.85 724.44L149.06 725.11L149.27 725.79L149.48 726.47L149.69 727.16L149.91 727.86L150.12 728.57L150.33 729.28L150.54 730.00L150.75 730.73L150.96 731.46L151.18 732.20L151.39 732.95L151.60 733.71L151.81 734.47L152.02 735.24L152.24 736.02L152.45 736.81L152.66 737.60L152.87 738.41L153.08 739.22L153.29 740.03L153.51 740.86L153.72 741.70L153.93 742.54L154.14 743.39L154.35 744.25L154.56 745.12L154.78 746.00L154.99 746.89L155.20 747.78L155.41 748.69L155.62 749.60L155.83 750.52L156.05 751.46L156.26 752.40L156.47 753.35L156.68 754.31L156.89 755.28L157.11 756.26L157.32 757.25L157.53 758.25L157.74 759.25L157.95 760.27L158.16 761.30L158.38 762.34L158.59 763.39L158.80 764.45L159.01 765.53L159.22 766.61L159.43 767.70L159.65 768.80L159.86 769.92L160.07 771.04L160.28 772.18L160.49 773.33L160.70 774.49L160.92 775.66L161.13 776.84L161.34 778.04L161.55 779.25L161.76 780.47L161.98 781.70L162.19 782.94L162.40 784.20L162.61 785.47L162.82 786.75L163.03 788.04L163.25 789.35L163.46 790.67L163.67 792.00L163.88 793.35L164.09 794.71L164.30 796.08L164.52 797.47L164.73 798.87L164.94 800.29L165.15 801.72L165.36 803.16L165.58 804.62L165.79 806.09L166.00 807.58L166.21 809.08L166.42 810.60L166.63 812.13L166.85 813.68L167.06 815.24" fill="none" stroke="#222" stroke-width="1.1" stroke-dasharray="6.5 8" clip-path="url(#cb3)"/>
<line x1="77.7" y1="651.5" x2="175.4" y2="729.9" stroke="#d94040" stroke-width="1.2"/>
<g fill="none" stroke="#2020ec" stroke-width="1.05"><circle cx="77.7" cy="656.2" r="3.5"/><circle cx="92.5" cy="661.6" r="3.5"/><circle cx="101.1" cy="665.6" r="3.5"/><circle cx="107.2" cy="669.7" r="3.5"/><circle cx="111.9" cy="672.9" r="3.5"/><circle cx="115.8" cy="676.3" r="3.5"/><circle cx="119.1" cy="679.6" r="3.5"/><circle cx="122.0" cy="682.5" r="3.5"/><circle cx="124.5" cy="685.0" r="3.5"/><circle cx="126.7" cy="687.2" r="3.5"/><circle cx="128.7" cy="689.2" r="3.5"/><circle cx="130.6" cy="690.9" r="3.5"/><circle cx="132.3" cy="692.4" r="3.5"/><circle cx="133.9" cy="694.5" r="3.5"/><circle cx="135.3" cy="696.9" r="3.5"/><circle cx="137.7" cy="699.1" r="3.5"/><circle cx="137.9" cy="701.2" r="3.5"/><circle cx="139.6" cy="703.2" r="3.5"/><circle cx="140.8" cy="705.3" r="3.5"/><circle cx="140.9" cy="707.5" r="3.5"/><circle cx="141.6" cy="709.5" r="3.5"/><circle cx="143.7" cy="711.5" r="3.5"/><circle cx="143.7" cy="713.4" r="3.5"/><circle cx="145.1" cy="715.2" r="3.5"/><circle cx="147.0" cy="716.9" r="3.5"/><circle cx="147.8" cy="718.8" r="3.5"/><circle cx="147.1" cy="720.9" r="3.5"/><circle cx="147.8" cy="722.8" r="3.5"/><circle cx="148.8" cy="724.7" r="3.5"/><circle cx="150.7" cy="726.5" r="3.5"/><circle cx="149.8" cy="728.2" r="3.5"/><circle cx="150.9" cy="729.9" r="3.5"/><circle cx="151.3" cy="731.7" r="3.5"/><circle cx="152.0" cy="733.8" r="3.5"/><circle cx="153.4" cy="735.8" r="3.5"/><circle cx="153.3" cy="737.8" r="3.5"/><circle cx="154.4" cy="739.8" r="3.5"/><circle cx="155.6" cy="741.7" r="3.5"/><circle cx="155.8" cy="742.6" r="3.5"/><circle cx="155.4" cy="743.4" r="3.5"/><circle cx="156.4" cy="744.2" r="3.5"/><circle cx="156.3" cy="745.0" r="3.5"/><circle cx="157.0" cy="745.9" r="3.5"/><circle cx="156.2" cy="746.9" r="3.5"/><circle cx="156.7" cy="747.8" r="3.5"/><circle cx="157.4" cy="748.9" r="3.5"/><circle cx="158.5" cy="750.0" r="3.5"/><circle cx="158.2" cy="751.1" r="3.5"/><circle cx="158.3" cy="752.4" r="3.5"/><circle cx="158.2" cy="753.7" r="3.5"/><circle cx="158.7" cy="755.1" r="3.5"/><circle cx="159.1" cy="756.6" r="3.5"/><circle cx="161.1" cy="758.3" r="3.5"/><circle cx="161.4" cy="760.1" r="3.5"/><circle cx="161.9" cy="762.1" r="3.5"/><circle cx="161.7" cy="764.4" r="3.5"/><circle cx="162.7" cy="766.9" r="3.5"/><circle cx="162.6" cy="769.9" r="3.5"/><circle cx="163.9" cy="773.3" r="3.5"/><circle cx="164.3" cy="777.6" r="3.5"/><circle cx="164.9" cy="783.1" r="3.5"/><circle cx="174.7" cy="790.9" r="3.5"/><circle cx="175.4" cy="804.1" r="3.5"/></g>
<clipPath id="cb4"><rect x="282.6" y="627.9" width="147.5" height="176.20000000000005"/></clipPath>
<path d="M282.60 677.20L282.81 677.21L283.02 677.22L283.24 677.23L283.45 677.24L283.66 677.24L283.87 677.25L284.08 677.26L284.29 677.27L284.51 677.28L284.72 677.29L284.93 677.30L285.14 677.31L285.35 677.32L285.56 677.33L285.78 677.34L285.99 677.35L286.20 677.36L286.41 677.37L286.62 677.38L286.83 677.39L287.05 677.40L287.26 677.42L287.47 677.43L287.68 677.44L287.89 677.45L288.11 677.46L288.32 677.47L288.53 677.48L288.74 677.49L288.95 677.51L289.16 677.52L289.38 677.53L289.59 677.54L289.80 677.55L290.01 677.57L290.22 677.58L290.43 677.59L290.65 677.61L290.86 677.62L291.07 677.63L291.28 677.64L291.49 677.66L291.71 677.67L291.92 677.68L292.13 677.70L292.34 677.71L292.55 677.73L292.76 677.74L292.98 677.75L293.19 677.77L293.40 677.78L293.61 677.80L293.82 677.81L294.03 677.83L294.25 677.84L294.46 677.86L294.67 677.87L294.88 677.89L295.09 677.90L295.30 677.92L295.52 677.94L295.73 677.95L295.94 677.97L296.15 677.98L296.36 678.00L296.58 678.02L296.79 678.04L297.00 678.05L297.21 678.07L297.42 678.09L297.63 678.11L297.85 678.12L298.06 678.14L298.27 678.16L298.48 678.18L298.69 678.20L298.90 678.22L299.12 678.23L299.33 678.25L299.54 678.27L299.75 678.29L299.96 678.31L300.18 678.33L300.39 678.35L300.60 678.37L300.81 678.39L301.02 678.41L301.23 678.43L301.45 678.46L301.66 678.48L301.87 678.50L302.08 678.52L302.29 678.54L302.50 678.56L302.72 678.59L302.93 678.61L303.14 678.63L303.35 678.66L303.56 678.68L303.77 678.70L303.99 678.73L304.20 678.75L304.41 678.78L304.62 678.80L304.83 678.82L305.05 678.85L305.26 678.87L305.47 678.90L305.68 678.93L305.89 678.95L306.10 678.98L306.32 679.01L306.53 679.03L306.74 679.06L306.95 679.09L307.16 679.11L307.37 679.14L307.59 679.17L307.80 679.20L308.01 679.23L308.22 679.26L308.43 679.29L308.64 679.32L308.86 679.35L309.07 679.38L309.28 679.41L309.49 679.44L309.70 679.47L309.92 679.50L310.13 679.53L310.34 679.56L310.55 679.60L310.76 679.63L310.97 679.66L311.19 679.70L311.40 679.73L311.61 679.76L311.82 679.80L312.03 679.83L312.24 679.87L312.46 679.90L312.67 679.94L312.88 679.98L313.09 680.01L313.30 680.05L313.52 680.09L313.73 680.12L313.94 680.16L314.15 680.20L314.36 680.24L314.57 680.28L314.79 680.32L315.00 680.36L315.21 680.40L315.42 680.44L315.63 680.48L315.84 680.52L316.06 680.56L316.27 680.61L316.48 680.65L316.69 680.69L316.90 680.74L317.11 680.78L317.33 680.83L317.54 680.87L317.75 680.92L317.96 680.96L318.17 681.01L318.39 681.06L318.60 681.10L318.81 681.15L319.02 681.20L319.23 681.25L319.44 681.30L319.66 681.35L319.87 681.40L320.08 681.45L320.29 681.50L320.50 681.55L320.71 681.60L320.93 681.66L321.14 681.71L321.35 681.76L321.56 681.82L321.77 681.87L321.99 681.93L322.20 681.99L322.41 682.04L322.62 682.10L322.83 682.16L323.04 682.22L323.26 682.27L323.47 682.33L323.68 682.39L323.89 682.45L324.10 682.52L324.31 682.58L324.53 682.64L324.74 682.70L324.95 682.77L325.16 682.83L325.37 682.90L325.58 682.96L325.80 683.03L326.01 683.10L326.22 683.16L326.43 683.23L326.64 683.30L326.86 683.37L327.07 683.44L327.28 683.51L327.49 683.59L327.70 683.66L327.91 683.73L328.13 683.81L328.34 683.88L328.55 683.96L328.76 684.03L328.97 684.11L329.18 684.19L329.40 684.27L329.61 684.35L329.82 684.43L330.03 684.51L330.24 684.59L330.45 684.67L330.67 684.76L330.88 684.84L331.09 684.93L331.30 685.01L331.51 685.10L331.73 685.19L331.94 685.27L332.15 685.36L332.36 685.45L332.57 685.55L332.78 685.64L333.00 685.73L333.21 685.83L333.42 685.92L333.63 686.02L333.84 686.11L334.05 686.21L334.27 686.31L334.48 686.41L334.69 686.51L334.90 686.61L335.11 686.72L335.33 686.82L335.54 686.93L335.75 687.03L335.96 687.14L336.17 687.25L336.38 687.36L336.60 687.47L336.81 687.58L337.02 687.69L337.23 687.80L337.44 687.92L337.65 688.04L337.87 688.15L338.08 688.27L338.29 688.39L338.50 688.51L338.71 688.63L338.92 688.76L339.14 688.88L339.35 689.01L339.56 689.13L339.77 689.26L339.98 689.39L340.20 689.52L340.41 689.65L340.62 689.79L340.83 689.92L341.04 690.06L341.25 690.19L341.47 690.33L341.68 690.47L341.89 690.61L342.10 690.76L342.31 690.90L342.52 691.05L342.74 691.20L342.95 691.34L343.16 691.49L343.37 691.65L343.58 691.80L343.79 691.95L344.01 692.11L344.22 692.27L344.43 692.43L344.64 692.59L344.85 692.75L345.07 692.92L345.28 693.08L345.49 693.25L345.70 693.42L345.91 693.59L346.12 693.76L346.34 693.94L346.55 694.11L346.76 694.29L346.97 694.47L347.18 694.65L347.39 694.84L347.61 695.02L347.82 695.21L348.03 695.40L348.24 695.59L348.45 695.78L348.67 695.98L348.88 696.17L349.09 696.37L349.30 696.57L349.51 696.77L349.72 696.98L349.94 697.18L350.15 697.39L350.36 697.60L350.57 697.82L350.78 698.03L350.99 698.25L351.21 698.47L351.42 698.69L351.63 698.91L351.84 699.14L352.05 699.37L352.26 699.60L352.48 699.83L352.69 700.07L352.90 700.30L353.11 700.54L353.32 700.79L353.54 701.03L353.75 701.28L353.96 701.53L354.17 701.78L354.38 702.03L354.59 702.29L354.81 702.55L355.02 702.81L355.23 703.08L355.44 703.35L355.65 703.62L355.86 703.89L356.08 704.16L356.29 704.44L356.50 704.72L356.71 705.01L356.92 705.29L357.14 705.58L357.35 705.88L357.56 706.17L357.77 706.47L357.98 706.77L358.19 707.08L358.41 707.39L358.62 707.70L358.83 708.01L359.04 708.33L359.25 708.65L359.46 708.97L359.68 709.30L359.89 709.63L360.10 709.96L360.31 710.30L360.52 710.64L360.73 710.98L360.95 711.33L361.16 711.68L361.37 712.03L361.58 712.39L361.79 712.75L362.01 713.11L362.22 713.48L362.43 713.85L362.64 714.23L362.85 714.60L363.06 714.99L363.28 715.37L363.49 715.76L363.70 716.16L363.91 716.56L364.12 716.96L364.33 717.37L364.55 717.78L364.76 718.19L364.97 718.61L365.18 719.03L365.39 719.46L365.60 719.89L365.82 720.33L366.03 720.77L366.24 721.21L366.45 721.66L366.66 722.11L366.88 722.57L367.09 723.04L367.30 723.50L367.51 723.97L367.72 724.45L367.93 724.93L368.15 725.42L368.36 725.91L368.57 726.41L368.78 726.91L368.99 727.41L369.20 727.92L369.42 728.44L369.63 728.96L369.84 729.49L370.05 730.02L370.26 730.56L370.48 731.10L370.69 731.65L370.90 732.20L371.11 732.76L371.32 733.32L371.53 733.89L371.75 734.47L371.96 735.05L372.17 735.64L372.38 736.23L372.59 736.83L372.80 737.43L373.02 738.04L373.23 738.66L373.44 739.29L373.65 739.92L373.86 740.55L374.07 741.19L374.29 741.84L374.50 742.50L374.71 743.16L374.92 743.83L375.13 744.50L375.35 745.18L375.56 745.87L375.77 746.57L375.98 747.27L376.19 747.98L376.40 748.70L376.62 749.42L376.83 750.15L377.04 750.89L377.25 751.64L377.46 752.39L377.67 753.15L377.89 753.92L378.10 754.69L378.31 755.48L378.52 756.27L378.73 757.07L378.95 757.88L379.16 758.69L379.37 759.52L379.58 760.35L379.79 761.19L380.00 762.04L380.22 762.89L380.43 763.76L380.64 764.63L380.85 765.52L381.06 766.41L381.27 767.31L381.49 768.22L381.70 769.14L381.91 770.07L382.12 771.01L382.33 771.95L382.54 772.91L382.76 773.87L382.97 774.85L383.18 775.84L383.39 776.83L383.60 777.84L383.82 778.85L384.03 779.88L384.24 780.91L384.45 781.96L384.66 783.01L384.87 784.08L385.09 785.16L385.30 786.25L385.51 787.35L385.72 788.46L385.93 789.58L386.14 790.71L386.36 791.85L386.57 793.01L386.78 794.18L386.99 795.36L387.20 796.55L387.41 797.75L387.63 798.96L387.84 800.19L388.05 801.43L388.26 802.68L388.47 803.94L388.69 805.22L388.90 806.51L389.11 807.81L389.32 809.12L389.53 810.45L389.74 811.79L389.96 813.15L390.17 814.52" fill="none" stroke="#222" stroke-width="1.1" stroke-dasharray="6.5 8" clip-path="url(#cb4)"/>
<line x1="282.6" y1="667.9" x2="403.6" y2="751.9" stroke="#d94040" stroke-width="1.2"/>
<g fill="none" stroke="#2020ec" stroke-width="1.05"><circle cx="282.6" cy="669.1" r="3.5"/><circle cx="297.4" cy="676.8" r="3.5"/><circle cx="306.0" cy="682.1" r="3.5"/><circle cx="312.1" cy="685.5" r="3.5"/><circle cx="316.8" cy="688.7" r="3.5"/><circle cx="320.7" cy="691.2" r="3.5"/><circle cx="324.0" cy="693.2" r="3.5"/><circle cx="326.9" cy="694.9" r="3.5"/><circle cx="329.4" cy="696.0" r="3.5"/><circle cx="331.6" cy="697.1" r="3.5"/><circle cx="333.6" cy="698.6" r="3.5"/><circle cx="336.4" cy="700.1" r="3.5"/><circle cx="337.9" cy="701.4" r="3.5"/><circle cx="339.2" cy="702.6" r="3.5"/><circle cx="339.7" cy="703.7" r="3.5"/><circle cx="341.3" cy="704.8" r="3.5"/><circle cx="343.3" cy="705.8" r="3.5"/><circle cx="344.7" cy="706.7" r="3.5"/><circle cx="344.3" cy="707.6" r="3.5"/><circle cx="345.7" cy="708.4" r="3.5"/><circle cx="348.2" cy="709.2" r="3.5"/><circle cx="347.6" cy="710.0" r="3.5"/><circle cx="349.6" cy="710.7" r="3.5"/><circle cx="349.9" cy="711.4" r="3.5"/><circle cx="351.4" cy="712.0" r="3.5"/><circle cx="352.7" cy="712.6" r="3.5"/><circle cx="352.9" cy="713.2" r="3.5"/><circle cx="353.3" cy="713.8" r="3.5"/><circle cx="353.9" cy="714.4" r="3.5"/><circle cx="355.2" cy="715.1" r="3.5"/><circle cx="355.9" cy="716.0" r="3.5"/><circle cx="356.2" cy="717.0" r="3.5"/><circle cx="356.9" cy="717.9" r="3.5"/><circle cx="357.7" cy="718.8" r="3.5"/><circle cx="357.8" cy="719.7" r="3.5"/><circle cx="358.2" cy="720.5" r="3.5"/><circle cx="359.6" cy="721.4" r="3.5"/><circle cx="359.2" cy="722.2" r="3.5"/><circle cx="360.8" cy="722.9" r="3.5"/><circle cx="361.7" cy="723.7" r="3.5"/><circle cx="362.3" cy="724.5" r="3.5"/><circle cx="361.6" cy="725.5" r="3.5"/><circle cx="362.5" cy="726.5" r="3.5"/><circle cx="364.0" cy="727.4" r="3.5"/><circle cx="363.3" cy="728.4" r="3.5"/><circle cx="365.1" cy="729.3" r="3.5"/><circle cx="363.9" cy="730.2" r="3.5"/><circle cx="365.7" cy="731.1" r="3.5"/><circle cx="364.5" cy="731.9" r="3.5"/><circle cx="366.2" cy="732.7" r="3.5"/><circle cx="366.9" cy="732.9" r="3.5"/><circle cx="366.8" cy="733.1" r="3.5"/><circle cx="367.4" cy="733.3" r="3.5"/><circle cx="368.3" cy="733.5" r="3.5"/><circle cx="368.9" cy="733.7" r="3.5"/><circle cx="367.6" cy="733.9" r="3.5"/><circle cx="368.7" cy="734.1" r="3.5"/><circle cx="368.1" cy="734.3" r="3.5"/><circle cx="369.1" cy="734.5" r="3.5"/><circle cx="369.0" cy="734.6" r="3.5"/><circle cx="369.4" cy="734.8" r="3.5"/><circle cx="370.7" cy="735.0" r="3.5"/><circle cx="369.9" cy="735.1" r="3.5"/><circle cx="370.4" cy="735.3" r="3.5"/><circle cx="370.5" cy="736.3" r="3.5"/><circle cx="372.4" cy="738.5" r="3.5"/><circle cx="371.6" cy="740.7" r="3.5"/><circle cx="371.5" cy="742.6" r="3.5"/><circle cx="372.7" cy="743.4" r="3.5"/><circle cx="373.0" cy="744.2" r="3.5"/><circle cx="373.0" cy="745.0" r="3.5"/><circle cx="373.3" cy="745.9" r="3.5"/><circle cx="373.9" cy="746.9" r="3.5"/><circle cx="374.8" cy="747.8" r="3.5"/><circle cx="374.6" cy="748.9" r="3.5"/><circle cx="376.3" cy="750.0" r="3.5"/><circle cx="376.7" cy="751.1" r="3.5"/><circle cx="378.0" cy="752.4" r="3.5"/><circle cx="379.4" cy="753.7" r="3.5"/><circle cx="380.7" cy="755.1" r="3.5"/><circle cx="381.6" cy="756.6" r="3.5"/><circle cx="382.9" cy="758.3" r="3.5"/><circle cx="384.4" cy="760.1" r="3.5"/><circle cx="385.3" cy="762.1" r="3.5"/><circle cx="385.5" cy="764.4" r="3.5"/><circle cx="388.2" cy="766.9" r="3.5"/><circle cx="387.9" cy="769.9" r="3.5"/><circle cx="388.8" cy="773.3" r="3.5"/><circle cx="389.2" cy="777.6" r="3.5"/><circle cx="389.1" cy="783.1" r="3.5"/><circle cx="394.0" cy="790.9" r="3.5"/><circle cx="403.6" cy="804.1" r="3.5"/></g>
<clipPath id="cb5"><rect x="490.8" y="627.9" width="147.5" height="176.20000000000005"/></clipPath>
<path d="M490.80 660.90L491.01 660.91L491.22 660.92L491.44 660.93L491.65 660.94L491.86 660.96L492.07 660.97L492.28 660.98L492.49 660.99L492.71 661.00L492.92 661.02L493.13 661.03L493.34 661.04L493.55 661.05L493.76 661.07L493.98 661.08L494.19 661.09L494.40 661.10L494.61 661.12L494.82 661.13L495.03 661.14L495.25 661.16L495.46 661.17L495.67 661.18L495.88 661.20L496.09 661.21L496.31 661.23L496.52 661.24L496.73 661.25L496.94 661.27L497.15 661.28L497.36 661.30L497.58 661.31L497.79 661.33L498.00 661.34L498.21 661.36L498.42 661.38L498.63 661.39L498.85 661.41L499.06 661.42L499.27 661.44L499.48 661.46L499.69 661.47L499.91 661.49L500.12 661.51L500.33 661.52L500.54 661.54L500.75 661.56L500.96 661.58L501.18 661.59L501.39 661.61L501.60 661.63L501.81 661.65L502.02 661.67L502.23 661.69L502.45 661.70L502.66 661.72L502.87 661.74L503.08 661.76L503.29 661.78L503.50 661.80L503.72 661.82L503.93 661.84L504.14 661.86L504.35 661.88L504.56 661.90L504.78 661.92L504.99 661.95L505.20 661.97L505.41 661.99L505.62 662.01L505.83 662.03L506.05 662.06L506.26 662.08L506.47 662.10L506.68 662.12L506.89 662.15L507.10 662.17L507.32 662.19L507.53 662.22L507.74 662.24L507.95 662.27L508.16 662.29L508.38 662.32L508.59 662.34L508.80 662.37L509.01 662.39L509.22 662.42L509.43 662.45L509.65 662.47L509.86 662.50L510.07 662.53L510.28 662.55L510.49 662.58L510.70 662.61L510.92 662.64L511.13 662.67L511.34 662.69L511.55 662.72L511.76 662.75L511.97 662.78L512.19 662.81L512.40 662.84L512.61 662.87L512.82 662.90L513.03 662.93L513.25 662.97L513.46 663.00L513.67 663.03L513.88 663.06L514.09 663.09L514.30 663.13L514.52 663.16L514.73 663.19L514.94 663.23L515.15 663.26L515.36 663.30L515.57 663.33L515.79 663.37L516.00 663.40L516.21 663.44L516.42 663.48L516.63 663.51L516.84 663.55L517.06 663.59L517.27 663.63L517.48 663.66L517.69 663.70L517.90 663.74L518.12 663.78L518.33 663.82L518.54 663.86L518.75 663.90L518.96 663.94L519.17 663.98L519.39 664.03L519.60 664.07L519.81 664.11L520.02 664.15L520.23 664.20L520.44 664.24L520.66 664.29L520.87 664.33L521.08 664.38L521.29 664.42L521.50 664.47L521.72 664.52L521.93 664.56L522.14 664.61L522.35 664.66L522.56 664.71L522.77 664.76L522.99 664.81L523.20 664.86L523.41 664.91L523.62 664.96L523.83 665.01L524.04 665.06L524.26 665.11L524.47 665.17L524.68 665.22L524.89 665.27L525.10 665.33L525.31 665.39L525.53 665.44L525.74 665.50L525.95 665.55L526.16 665.61L526.37 665.67L526.59 665.73L526.80 665.79L527.01 665.85L527.22 665.91L527.43 665.97L527.64 666.03L527.86 666.09L528.07 666.16L528.28 666.22L528.49 666.28L528.70 666.35L528.91 666.42L529.13 666.48L529.34 666.55L529.55 666.62L529.76 666.68L529.97 666.75L530.19 666.82L530.40 666.89L530.61 666.96L530.82 667.04L531.03 667.11L531.24 667.18L531.46 667.25L531.67 667.33L531.88 667.40L532.09 667.48L532.30 667.56L532.51 667.64L532.73 667.71L532.94 667.79L533.15 667.87L533.36 667.95L533.57 668.03L533.78 668.12L534.00 668.20L534.21 668.28L534.42 668.37L534.63 668.46L534.84 668.54L535.06 668.63L535.27 668.72L535.48 668.81L535.69 668.90L535.90 668.99L536.11 669.08L536.33 669.17L536.54 669.27L536.75 669.36L536.96 669.46L537.17 669.55L537.38 669.65L537.60 669.75L537.81 669.85L538.02 669.95L538.23 670.05L538.44 670.15L538.65 670.26L538.87 670.36L539.08 670.47L539.29 670.57L539.50 670.68L539.71 670.79L539.93 670.90L540.14 671.01L540.35 671.12L540.56 671.24L540.77 671.35L540.98 671.47L541.20 671.58L541.41 671.70L541.62 671.82L541.83 671.94L542.04 672.06L542.25 672.19L542.47 672.31L542.68 672.43L542.89 672.56L543.10 672.69L543.31 672.82L543.53 672.95L543.74 673.08L543.95 673.21L544.16 673.35L544.37 673.48L544.58 673.62L544.80 673.76L545.01 673.90L545.22 674.04L545.43 674.18L545.64 674.32L545.85 674.47L546.07 674.62L546.28 674.76L546.49 674.91L546.70 675.06L546.91 675.22L547.12 675.37L547.34 675.53L547.55 675.68L547.76 675.84L547.97 676.00L548.18 676.17L548.40 676.33L548.61 676.49L548.82 676.66L549.03 676.83L549.24 677.00L549.45 677.17L549.67 677.35L549.88 677.52L550.09 677.70L550.30 677.88L550.51 678.06L550.72 678.24L550.94 678.43L551.15 678.61L551.36 678.80L551.57 678.99L551.78 679.18L551.99 679.38L552.21 679.57L552.42 679.77L552.63 679.97L552.84 680.17L553.05 680.38L553.27 680.58L553.48 680.79L553.69 681.00L553.90 681.21L554.11 681.43L554.32 681.64L554.54 681.86L554.75 682.08L554.96 682.30L555.17 682.53L555.38 682.76L555.59 682.99L555.81 683.22L556.02 683.45L556.23 683.69L556.44 683.93L556.65 684.17L556.87 684.41L557.08 684.66L557.29 684.91L557.50 685.16L557.71 685.41L557.92 685.67L558.14 685.93L558.35 686.19L558.56 686.45L558.77 686.72L558.98 686.99L559.19 687.26L559.41 687.53L559.62 687.81L559.83 688.09L560.04 688.37L560.25 688.66L560.46 688.95L560.68 689.24L560.89 689.54L561.10 689.83L561.31 690.13L561.52 690.44L561.74 690.74L561.95 691.05L562.16 691.36L562.37 691.68L562.58 692.00L562.79 692.32L563.01 692.65L563.22 692.97L563.43 693.31L563.64 693.64L563.85 693.98L564.06 694.32L564.28 694.67L564.49 695.02L564.70 695.37L564.91 695.72L565.12 696.08L565.34 696.45L565.55 696.81L565.76 697.18L565.97 697.56L566.18 697.93L566.39 698.32L566.61 698.70L566.82 699.09L567.03 699.48L567.24 699.88L567.45 700.28L567.66 700.69L567.88 701.09L568.09 701.51L568.30 701.92L568.51 702.35L568.72 702.77L568.93 703.20L569.15 703.63L569.36 704.07L569.57 704.52L569.78 704.96L569.99 705.42L570.21 705.87L570.42 706.33L570.63 706.80L570.84 707.27L571.05 707.74L571.26 708.22L571.48 708.71L571.69 709.19L571.90 709.69L572.11 710.19L572.32 710.69L572.53 711.20L572.75 711.71L572.96 712.23L573.17 712.76L573.38 713.29L573.59 713.82L573.80 714.36L574.02 714.91L574.23 715.46L574.44 716.02L574.65 716.58L574.86 717.15L575.08 717.72L575.29 718.30L575.50 718.88L575.71 719.48L575.92 720.07L576.13 720.67L576.35 721.28L576.56 721.90L576.77 722.52L576.98 723.15L577.19 723.78L577.40 724.42L577.62 725.07L577.83 725.72L578.04 726.38L578.25 727.04L578.46 727.72L578.68 728.40L578.89 729.08L579.10 729.77L579.31 730.47L579.52 731.18L579.73 731.89L579.95 732.62L580.16 733.34L580.37 734.08L580.58 734.82L580.79 735.57L581.00 736.33L581.22 737.10L581.43 737.87L581.64 738.65L581.85 739.44L582.06 740.23L582.27 741.04L582.49 741.85L582.70 742.67L582.91 743.50L583.12 744.34L583.33 745.18L583.55 746.04L583.76 746.90L583.97 747.77L584.18 748.65L584.39 749.54L584.60 750.44L584.82 751.34L585.03 752.26L585.24 753.18L585.45 754.12L585.66 755.06L585.87 756.01L586.09 756.97L586.30 757.95L586.51 758.93L586.72 759.92L586.93 760.92L587.15 761.93L587.36 762.95L587.57 763.98L587.78 765.03L587.99 766.08L588.20 767.14L588.42 768.21L588.63 769.30L588.84 770.39L589.05 771.50L589.26 772.62L589.47 773.75L589.69 774.88L589.90 776.04L590.11 777.20L590.32 778.37L590.53 779.56L590.74 780.76L590.96 781.97L591.17 783.19L591.38 784.42L591.59 785.67L591.80 786.93L592.02 788.20L592.23 789.48L592.44 790.78L592.65 792.09L592.86 793.41L593.07 794.75L593.29 796.10L593.50 797.46L593.71 798.84L593.92 800.23L594.13 801.63L594.34 803.05L594.56 804.48L594.77 805.93L594.98 807.39L595.19 808.87L595.40 810.36L595.61 811.86L595.83 813.38L596.04 814.92" fill="none" stroke="#222" stroke-width="1.1" stroke-dasharray="6.5 8" clip-path="url(#cb5)"/>
<line x1="490.8" y1="648.5" x2="612.6" y2="735.6" stroke="#d94040" stroke-width="1.2"/>
<g fill="none" stroke="#2020ec" stroke-width="1.05"><circle cx="490.8" cy="652.2" r="3.5"/><circle cx="505.6" cy="657.4" r="3.5"/><circle cx="514.2" cy="660.9" r="3.5"/><circle cx="520.3" cy="664.3" r="3.5"/><circle cx="525.0" cy="666.7" r="3.5"/><circle cx="528.9" cy="669.1" r="3.5"/><circle cx="532.2" cy="671.5" r="3.5"/><circle cx="535.1" cy="673.7" r="3.5"/><circle cx="537.6" cy="675.6" r="3.5"/><circle cx="539.8" cy="677.6" r="3.5"/><circle cx="541.8" cy="679.4" r="3.5"/><circle cx="543.7" cy="681.0" r="3.5"/><circle cx="545.4" cy="682.5" r="3.5"/><circle cx="547.0" cy="684.2" r="3.5"/><circle cx="548.4" cy="686.0" r="3.5"/><circle cx="549.8" cy="687.7" r="3.5"/><circle cx="551.1" cy="689.3" r="3.5"/><circle cx="552.3" cy="690.8" r="3.5"/><circle cx="553.5" cy="692.3" r="3.5"/><circle cx="554.6" cy="693.6" r="3.5"/><circle cx="555.6" cy="694.9" r="3.5"/><circle cx="556.6" cy="696.2" r="3.5"/><circle cx="557.5" cy="697.3" r="3.5"/><circle cx="558.4" cy="698.5" r="3.5"/><circle cx="560.1" cy="699.6" r="3.5"/><circle cx="559.8" cy="700.6" r="3.5"/><circle cx="561.5" cy="701.6" r="3.5"/><circle cx="562.6" cy="702.6" r="3.5"/><circle cx="562.1" cy="703.5" r="3.5"/><circle cx="563.7" cy="704.4" r="3.5"/><circle cx="563.5" cy="705.3" r="3.5"/><circle cx="563.9" cy="706.1" r="3.5"/><circle cx="564.9" cy="707.0" r="3.5"/><circle cx="566.3" cy="708.0" r="3.5"/><circle cx="565.8" cy="708.9" r="3.5"/><circle cx="567.4" cy="709.8" r="3.5"/><circle cx="567.3" cy="710.7" r="3.5"/><circle cx="567.5" cy="711.5" r="3.5"/><circle cx="568.6" cy="712.4" r="3.5"/><circle cx="569.1" cy="713.2" r="3.5"/><circle cx="569.7" cy="714.0" r="3.5"/><circle cx="571.1" cy="714.7" r="3.5"/><circle cx="571.7" cy="715.5" r="3.5"/><circle cx="570.8" cy="716.2" r="3.5"/><circle cx="572.8" cy="716.9" r="3.5"/><circle cx="572.5" cy="717.7" r="3.5"/><circle cx="573.7" cy="718.3" r="3.5"/><circle cx="573.8" cy="719.0" r="3.5"/><circle cx="573.7" cy="719.7" r="3.5"/><circle cx="573.6" cy="720.3" r="3.5"/><circle cx="575.3" cy="721.1" r="3.5"/><circle cx="575.9" cy="722.0" r="3.5"/><circle cx="575.5" cy="722.8" r="3.5"/><circle cx="574.9" cy="723.6" r="3.5"/><circle cx="576.7" cy="724.4" r="3.5"/><circle cx="577.0" cy="725.2" r="3.5"/><circle cx="577.6" cy="725.9" r="3.5"/><circle cx="578.2" cy="726.7" r="3.5"/><circle cx="578.5" cy="727.4" r="3.5"/><circle cx="578.4" cy="728.1" r="3.5"/><circle cx="578.1" cy="728.8" r="3.5"/><circle cx="578.7" cy="729.5" r="3.5"/><circle cx="579.0" cy="730.2" r="3.5"/><circle cx="579.8" cy="730.9" r="3.5"/><circle cx="579.9" cy="731.5" r="3.5"/><circle cx="580.6" cy="732.2" r="3.5"/><circle cx="580.3" cy="732.8" r="3.5"/><circle cx="580.8" cy="733.5" r="3.5"/><circle cx="581.8" cy="734.1" r="3.5"/><circle cx="581.8" cy="734.7" r="3.5"/><circle cx="582.4" cy="735.3" r="3.5"/><circle cx="582.2" cy="735.9" r="3.5"/><circle cx="581.4" cy="736.5" r="3.5"/><circle cx="582.2" cy="737.1" r="3.5"/><circle cx="582.3" cy="737.7" r="3.5"/><circle cx="582.5" cy="738.2" r="3.5"/><circle cx="582.5" cy="738.8" r="3.5"/><circle cx="582.7" cy="739.3" r="3.5"/><circle cx="583.7" cy="739.9" r="3.5"/><circle cx="584.6" cy="740.4" r="3.5"/><circle cx="585.1" cy="740.9" r="3.5"/><circle cx="585.5" cy="741.5" r="3.5"/><circle cx="585.0" cy="742.0" r="3.5"/><circle cx="584.1" cy="742.5" r="3.5"/><circle cx="584.5" cy="742.6" r="3.5"/><circle cx="584.6" cy="743.4" r="3.5"/><circle cx="586.7" cy="744.2" r="3.5"/><circle cx="586.0" cy="745.0" r="3.5"/><circle cx="587.3" cy="745.9" r="3.5"/><circle cx="587.2" cy="746.9" r="3.5"/><circle cx="587.9" cy="747.8" r="3.5"/><circle cx="589.0" cy="748.9" r="3.5"/><circle cx="589.2" cy="750.0" r="3.5"/><circle cx="588.6" cy="751.1" r="3.5"/><circle cx="590.3" cy="752.4" r="3.5"/><circle cx="590.4" cy="753.7" r="3.5"/><circle cx="592.4" cy="755.1" r="3.5"/><circle cx="591.7" cy="756.6" r="3.5"/><circle cx="592.5" cy="758.3" r="3.5"/><circle cx="594.8" cy="760.1" r="3.5"/><circle cx="594.7" cy="762.1" r="3.5"/><circle cx="595.0" cy="764.4" r="3.5"/><circle cx="597.5" cy="766.9" r="3.5"/><circle cx="598.2" cy="773.3" r="3.5"/><circle cx="599.8" cy="783.1" r="3.5"/><circle cx="603.3" cy="790.9" r="3.5"/><circle cx="613.3" cy="804.1" r="3.5"/></g>
<clipPath id="ca0"><rect x="77.6" y="16.7" width="135.5" height="135.10000000000002"/></clipPath>
<g fill="none" stroke="#2222e8" stroke-width="1.15"><circle cx="89.1" cy="36.4" r="3.5"/><circle cx="103.8" cy="44.6" r="3.5"/><circle cx="113.3" cy="52.8" r="3.5"/><circle cx="120.9" cy="54.0" r="3.5"/><circle cx="127.2" cy="59.0" r="3.5"/><circle cx="171.1" cy="119.8" r="3.5"/><circle cx="175.0" cy="115.5" r="3.5"/><circle cx="178.0" cy="114.0" r="3.5"/><circle cx="181.0" cy="111.5" r="3.5"/><circle cx="184.0" cy="112.5" r="3.5"/><circle cx="187.0" cy="110.5" r="3.5"/><circle cx="190.0" cy="114.0" r="3.5"/><circle cx="193.0" cy="115.5" r="3.5"/><circle cx="196.0" cy="117.5" r="3.5"/><circle cx="188.0" cy="117.8" r="3.5"/><circle cx="132.2" cy="66.7" r="3.5"/><circle cx="136.5" cy="66.2" r="3.5"/><circle cx="140.2" cy="66.7" r="3.5"/><circle cx="143.4" cy="71.3" r="3.5"/><circle cx="146.4" cy="75.0" r="3.5"/><circle cx="149.1" cy="75.0" r="3.5"/><circle cx="151.5" cy="79.2" r="3.5"/><circle cx="153.8" cy="80.9" r="3.5"/><circle cx="155.9" cy="80.9" r="3.5"/><circle cx="157.9" cy="82.0" r="3.5"/><circle cx="159.7" cy="85.3" r="3.5"/><circle cx="161.4" cy="85.3" r="3.5"/><circle cx="163.1" cy="98.0" r="3.5"/><circle cx="164.6" cy="93.3" r="3.5"/><circle cx="166.1" cy="89.1" r="3.5"/><circle cx="167.5" cy="95.9" r="3.5"/><circle cx="168.8" cy="98.0" r="3.5"/><circle cx="170.1" cy="95.0" r="3.5"/><circle cx="171.3" cy="103.4" r="3.5"/><circle cx="172.5" cy="103.4" r="3.5"/><circle cx="173.6" cy="103.4" r="3.5"/><circle cx="174.7" cy="125.4" r="3.5"/><circle cx="175.8" cy="109.3" r="3.5"/><circle cx="176.8" cy="112.0" r="3.5"/><circle cx="177.7" cy="112.0" r="3.5"/><circle cx="178.7" cy="103.4" r="3.5"/><circle cx="179.6" cy="112.0" r="3.5"/><circle cx="180.5" cy="115.2" r="3.5"/><circle cx="184.0" cy="135.5" r="3.5"/><circle cx="186.5" cy="135.5" r="3.5"/><circle cx="189.0" cy="135.5" r="3.5"/><circle cx="191.5" cy="135.5" r="3.5"/><circle cx="194.0" cy="135.5" r="3.5"/><circle cx="196.0" cy="135.5" r="3.5"/><circle cx="205.0" cy="135.5" r="3.5"/><circle cx="206.5" cy="135.5" r="3.5"/><circle cx="208.0" cy="135.5" r="3.5"/><circle cx="209.5" cy="135.5" r="3.5"/><circle cx="210.5" cy="135.5" r="3.5"/><circle cx="182.0" cy="125.4" r="3.5"/><circle cx="184.0" cy="125.4" r="3.5"/><circle cx="186.5" cy="125.4" r="3.5"/><circle cx="189.0" cy="125.4" r="3.5"/><circle cx="191.5" cy="125.4" r="3.5"/><circle cx="193.5" cy="125.4" r="3.5"/><circle cx="195.5" cy="125.4" r="3.5"/><circle cx="197.5" cy="125.4" r="3.5"/><circle cx="200.0" cy="125.4" r="3.5"/><circle cx="202.0" cy="125.4" r="3.5"/><circle cx="186.9" cy="119.4" r="3.5"/><circle cx="188.5" cy="119.4" r="3.5"/><circle cx="195.0" cy="119.4" r="3.5"/><circle cx="189.8" cy="115.2" r="3.5"/><circle cx="194.2" cy="115.2" r="3.5"/><circle cx="185.0" cy="115.2" r="3.5"/><circle cx="188.0" cy="112.0" r="3.5"/><circle cx="191.0" cy="112.0" r="3.5"/></g>
<line x1="64.40" y1="-1.99" x2="211.70" y2="142.30" stroke="#111" stroke-width="1.2" stroke-dasharray="6.8 7.4" stroke-dashoffset="-28.00" clip-path="url(#ca0)"/>
<clipPath id="ca1"><rect x="285.4" y="16.7" width="135.5" height="135.10000000000002"/></clipPath>
<path fill="none" stroke="#f01818" stroke-width="1.1" d="M296.7 29.6L300.2 34.5L296.7 39.4L293.2 34.5ZM310.9 36.6L314.4 41.5L310.9 46.4L307.4 41.5ZM321.1 43.1L324.6 48.0L321.1 52.9L317.6 48.0ZM328.6 50.3L332.1 55.2L328.6 60.1L325.1 55.2ZM335.1 55.9L338.6 60.8L335.1 65.7L331.6 60.8ZM340.0 62.6L343.5 67.5L340.0 72.4L336.5 67.5ZM344.3 65.4L347.8 70.3L344.3 75.2L340.8 70.3ZM348.0 74.4L351.5 79.3L348.0 84.2L344.5 79.3ZM351.2 73.9L354.7 78.8L351.2 83.7L347.7 78.8ZM354.2 80.0L357.7 84.9L354.2 89.8L350.7 84.9ZM355.6 80.6L359.1 85.5L355.6 90.4L352.1 85.5ZM356.9 76.8L360.4 81.7L356.9 86.6L353.4 81.7ZM358.1 77.6L361.6 82.5L358.1 87.4L354.6 82.5ZM359.3 85.9L362.8 90.8L359.3 95.7L355.8 90.8ZM360.5 82.4L364.0 87.3L360.5 92.2L357.0 87.3ZM361.6 82.8L365.1 87.7L361.6 92.6L358.1 87.7ZM362.7 84.5L366.2 89.4L362.7 94.3L359.2 89.4ZM363.7 89.2L367.2 94.1L363.7 99.0L360.2 94.1ZM364.7 88.6L368.2 93.5L364.7 98.4L361.2 93.5ZM365.7 89.2L369.2 94.1L365.7 99.0L362.2 94.1ZM366.6 93.4L370.1 98.3L366.6 103.2L363.1 98.3ZM367.5 93.4L371.0 98.3L367.5 103.2L364.0 98.3ZM368.4 91.8L371.9 96.7L368.4 101.6L364.9 96.7ZM369.2 96.0L372.7 100.9L369.2 105.8L365.7 100.9ZM370.0 98.1L373.5 103.0L370.0 107.9L366.5 103.0ZM370.9 99.3L374.4 104.2L370.9 109.1L367.4 104.2ZM371.6 94.2L375.1 99.1L371.6 104.0L368.1 99.1ZM372.4 100.6L375.9 105.5L372.4 110.4L368.9 105.5ZM373.1 101.9L376.6 106.8L373.1 111.8L369.6 106.8ZM373.9 94.2L377.4 99.1L373.9 104.0L370.4 99.1ZM374.6 109.4L378.1 114.3L374.6 119.2L371.1 114.3ZM375.3 99.3L378.8 104.2L375.3 109.1L371.8 104.2ZM375.9 94.2L379.4 99.1L375.9 104.0L372.4 99.1ZM376.6 101.9L380.1 106.8L376.6 111.8L373.1 106.8ZM377.3 98.1L380.8 103.0L377.3 107.9L373.8 103.0ZM377.9 105.2L381.4 110.1L377.9 115.0L374.4 110.1ZM378.5 103.5L382.0 108.4L378.5 113.3L375.0 108.4ZM379.1 100.6L382.6 105.5L379.1 110.4L375.6 105.5ZM379.7 105.2L383.2 110.1L379.7 115.0L376.2 110.1ZM380.3 97.0L383.8 101.9L380.3 106.8L376.8 101.9ZM380.9 103.5L384.4 108.4L380.9 113.3L377.4 108.4ZM381.4 100.6L384.9 105.5L381.4 110.4L377.9 105.5ZM382.0 103.5L385.5 108.4L382.0 113.3L378.5 108.4ZM382.5 101.9L386.0 106.8L382.5 111.8L379.0 106.8ZM383.0 115.3L386.5 120.2L383.0 125.1L379.5 120.2ZM383.6 105.2L387.1 110.1L383.6 115.0L380.1 110.1ZM384.1 100.6L387.6 105.5L384.1 110.4L380.6 105.5ZM385.1 119.5L388.6 124.4L385.1 129.3L381.6 124.4ZM386.0 100.6L389.5 105.5L386.0 110.4L382.5 105.5ZM387.0 125.5L390.5 130.4L387.0 135.3L383.5 130.4ZM387.9 112.1L391.4 117.0L387.9 121.9L384.4 117.0ZM388.7 115.3L392.2 120.2L388.7 125.1L385.2 120.2ZM389.6 107.2L393.1 112.1L389.6 117.0L386.1 112.1ZM390.4 112.1L393.9 117.0L390.4 121.9L386.9 117.0ZM391.2 112.1L394.7 117.0L391.2 121.9L387.7 117.0ZM392.0 119.5L395.5 124.4L392.0 129.3L388.5 124.4ZM392.8 119.5L396.3 124.4L392.8 129.3L389.3 124.4ZM393.5 135.6L397.0 140.5L393.5 145.4L390.0 140.5ZM394.2 112.1L397.7 117.0L394.2 121.9L390.7 117.0ZM394.9 125.5L398.4 130.4L394.9 135.3L391.4 130.4ZM395.6 125.5L399.1 130.4L395.6 135.3L392.1 130.4ZM396.3 125.5L399.8 130.4L396.3 135.3L392.8 130.4ZM397.0 135.6L400.5 140.5L397.0 145.4L393.5 140.5ZM397.6 119.5L401.1 124.4L397.6 129.3L394.1 124.4ZM398.2 135.6L401.7 140.5L398.2 145.4L394.7 140.5ZM398.9 119.5L402.4 124.4L398.9 129.3L395.4 124.4ZM399.5 119.5L403.0 124.4L399.5 129.3L396.0 124.4ZM400.1 119.5L403.6 124.4L400.1 129.3L396.6 124.4ZM401.2 112.1L404.7 117.0L401.2 121.9L397.7 117.0ZM401.8 119.5L405.3 124.4L401.8 129.3L398.3 124.4ZM402.3 115.3L405.8 120.2L402.3 125.1L398.8 120.2ZM402.8 135.6L406.3 140.5L402.8 145.4L399.3 140.5ZM403.4 135.6L406.9 140.5L403.4 145.4L399.9 140.5ZM403.9 135.6L407.4 140.5L403.9 145.4L400.4 140.5ZM389.2 135.6L392.7 140.5L389.2 145.4L385.7 140.5ZM393.1 135.6L396.6 140.5L393.1 145.4L389.6 140.5ZM397.1 135.6L400.6 140.5L397.1 145.4L393.6 140.5ZM401.0 135.6L404.5 140.5L401.0 145.4L397.5 140.5ZM405.0 135.6L408.5 140.5L405.0 145.4L401.5 140.5ZM408.9 135.6L412.4 140.5L408.9 145.4L405.4 140.5ZM413.5 135.6L417.0 140.5L413.5 145.4L410.0 140.5ZM418.8 135.6L422.3 140.5L418.8 145.4L415.3 140.5ZM402.7 125.5L406.2 130.4L402.7 135.3L399.2 130.4ZM406.3 125.5L409.8 130.4L406.3 135.3L402.8 130.4ZM417.5 125.5L421.0 130.4L417.5 135.3L414.0 130.4ZM384.0 119.5L387.5 124.4L384.0 129.3L380.5 124.4ZM388.5 119.5L392.0 124.4L388.5 129.3L385.0 124.4ZM388.0 112.1L391.5 117.0L388.0 121.9L384.5 117.0Z"/>
<line x1="271.20" y1="-2.90" x2="415.40" y2="145.60" stroke="#111" stroke-width="1.2" stroke-dasharray="6.8 7.4" stroke-dashoffset="-28.71" clip-path="url(#ca1)"/>
<clipPath id="ca2"><rect x="492.9" y="16.7" width="135.5" height="135.10000000000002"/></clipPath>
<path fill="none" stroke="#111" stroke-width="1.05" stroke-linejoin="miter" d="M499.6 39.5L506.8 35.5L506.8 43.5ZM514.6 45.2L521.8 41.2L521.8 49.2ZM524.3 49.9L531.5 45.9L531.5 53.9ZM532.3 53.2L539.5 49.2L539.5 57.2ZM537.8 59.8L545.0 55.8L545.0 63.8ZM542.1 61.2L549.3 57.2L549.3 65.2ZM546.5 63.7L553.7 59.7L553.7 67.7ZM550.2 66.3L557.4 62.3L557.4 70.3ZM553.1 68.5L560.3 64.5L560.3 72.5ZM558.9 72.1L566.1 68.1L566.1 76.1ZM562.6 75.0L569.8 71.0L569.8 79.0ZM568.1 77.2L575.3 73.2L575.3 81.2ZM613.0 117.9L620.2 113.9L620.2 121.9ZM568.6 78.5L575.8 74.5L575.8 82.5ZM570.5 79.2L577.7 75.2L577.7 83.2ZM572.3 84.2L579.5 80.2L579.5 88.2ZM573.9 83.0L581.1 79.0L581.1 87.0ZM575.5 90.5L582.7 86.5L582.7 94.5ZM577.0 92.6L584.2 88.6L584.2 96.6ZM578.5 85.9L585.7 81.9L585.7 89.9ZM579.8 87.8L587.0 83.8L587.0 91.8ZM581.2 95.0L588.4 91.0L588.4 99.0ZM582.4 88.7L589.6 84.7L589.6 92.7ZM583.6 93.8L590.8 89.8L590.8 97.8ZM584.8 100.6L592.0 96.6L592.0 104.6ZM585.9 98.0L593.1 94.0L593.1 102.0ZM586.9 102.7L594.1 98.7L594.1 106.7ZM588.0 106.5L595.2 102.5L595.2 110.5ZM589.0 98.0L596.2 94.0L596.2 102.0ZM589.9 105.2L597.1 101.2L597.1 109.2ZM590.9 105.2L598.1 101.2L598.1 109.2ZM591.8 111.8L599.0 107.8L599.0 115.8ZM592.6 111.8L599.8 107.8L599.8 115.8ZM593.5 100.6L600.7 96.6L600.7 104.6ZM594.3 103.9L601.5 99.9L601.5 107.9ZM603.9 140.2L611.1 136.2L611.1 144.2ZM605.4 140.2L612.6 136.2L612.6 144.2ZM606.9 140.2L614.1 136.2L614.1 144.2ZM608.4 140.2L615.6 136.2L615.6 144.2ZM609.9 140.2L617.1 136.2L617.1 144.2ZM611.4 140.2L618.6 136.2L618.6 144.2ZM612.9 140.2L620.1 136.2L620.1 144.2ZM614.4 140.2L621.6 136.2L621.6 144.2ZM615.9 140.2L623.1 136.2L623.1 144.2ZM617.4 140.2L624.6 136.2L624.6 144.2ZM618.9 140.2L626.1 136.2L626.1 144.2ZM620.4 140.2L627.6 136.2L627.6 144.2ZM600.4 130.1L607.6 126.1L607.6 134.1ZM601.9 130.1L609.1 126.1L609.1 134.1ZM603.4 130.1L610.6 126.1L610.6 134.1ZM604.9 130.1L612.1 126.1L612.1 134.1ZM606.4 130.1L613.6 126.1L613.6 134.1ZM607.9 130.1L615.1 126.1L615.1 134.1ZM609.4 130.1L616.6 126.1L616.6 134.1ZM610.9 130.1L618.1 126.1L618.1 134.1ZM612.4 130.1L619.6 126.1L619.6 134.1ZM613.9 130.1L621.1 126.1L621.1 134.1ZM615.4 130.1L622.6 126.1L622.6 134.1ZM616.9 130.1L624.1 126.1L624.1 134.1ZM618.4 130.1L625.6 126.1L625.6 134.1ZM597.4 124.1L604.6 120.1L604.6 128.1ZM599.4 124.1L606.6 120.1L606.6 128.1ZM601.4 124.1L608.6 120.1L608.6 128.1ZM603.4 124.1L610.6 120.1L610.6 128.1ZM605.4 124.1L612.6 120.1L612.6 128.1ZM607.4 124.1L614.6 120.1L614.6 128.1ZM609.4 124.1L616.6 120.1L616.6 128.1ZM611.4 124.1L618.6 120.1L618.6 128.1ZM613.4 124.1L620.6 120.1L620.6 128.1ZM596.4 119.9L603.6 115.9L603.6 123.9ZM600.4 119.9L607.6 115.9L607.6 123.9ZM604.4 119.9L611.6 115.9L611.6 123.9ZM608.4 119.9L615.6 115.9L615.6 123.9ZM594.4 116.7L601.6 112.7L601.6 120.7ZM599.4 116.7L606.6 112.7L606.6 120.7ZM604.4 116.7L611.6 112.7L611.6 120.7Z"/>
<line x1="485.00" y1="-2.97" x2="627.70" y2="143.10" stroke="#111" stroke-width="1.2" stroke-dasharray="6.8 7.4" stroke-dashoffset="-28.62" clip-path="url(#ca2)"/>
<clipPath id="ca3"><rect x="78.2" y="197.0" width="135.5" height="134.89999999999998"/></clipPath>
<g fill="none" stroke="#30e0e0" stroke-width="1.15"><circle cx="89.6" cy="216.8" r="3.5"/><circle cx="104.1" cy="223.4" r="3.5"/><circle cx="113.7" cy="230.4" r="3.5"/><circle cx="121.2" cy="236.5" r="3.5"/><circle cx="165.3" cy="269.4" r="3.5"/><circle cx="167.0" cy="279.0" r="3.5"/><circle cx="173.1" cy="285.0" r="3.5"/><circle cx="176.6" cy="280.0" r="3.5"/><circle cx="180.1" cy="285.0" r="3.5"/><circle cx="127.9" cy="238.2" r="3.5"/><circle cx="132.8" cy="241.3" r="3.5"/><circle cx="137.1" cy="247.1" r="3.5"/><circle cx="140.8" cy="248.5" r="3.5"/><circle cx="144.0" cy="252.4" r="3.5"/><circle cx="147.0" cy="252.9" r="3.5"/><circle cx="149.7" cy="257.1" r="3.5"/><circle cx="152.1" cy="259.5" r="3.5"/><circle cx="154.4" cy="260.3" r="3.5"/><circle cx="156.5" cy="262.5" r="3.5"/><circle cx="158.5" cy="266.9" r="3.5"/><circle cx="160.3" cy="268.2" r="3.5"/><circle cx="162.0" cy="266.3" r="3.5"/><circle cx="163.7" cy="272.2" r="3.5"/><circle cx="165.2" cy="271.3" r="3.5"/><circle cx="166.7" cy="272.2" r="3.5"/><circle cx="168.1" cy="272.2" r="3.5"/><circle cx="169.4" cy="275.2" r="3.5"/><circle cx="170.7" cy="275.2" r="3.5"/><circle cx="171.9" cy="276.4" r="3.5"/><circle cx="173.1" cy="279.1" r="3.5"/><circle cx="174.2" cy="282.3" r="3.5"/><circle cx="175.3" cy="282.3" r="3.5"/><circle cx="176.4" cy="279.1" r="3.5"/><circle cx="177.4" cy="282.3" r="3.5"/><circle cx="178.3" cy="284.3" r="3.5"/><circle cx="179.3" cy="284.3" r="3.5"/><circle cx="180.2" cy="286.5" r="3.5"/><circle cx="185.4" cy="312.7" r="3.5"/><circle cx="187.5" cy="312.7" r="3.5"/><circle cx="189.5" cy="312.7" r="3.5"/><circle cx="191.5" cy="312.7" r="3.5"/><circle cx="193.5" cy="312.7" r="3.5"/><circle cx="195.5" cy="312.7" r="3.5"/><circle cx="197.5" cy="312.7" r="3.5"/><circle cx="198.5" cy="312.7" r="3.5"/><circle cx="211.2" cy="312.7" r="3.5"/><circle cx="182.8" cy="302.6" r="3.5"/><circle cx="186.3" cy="302.6" r="3.5"/><circle cx="188.9" cy="302.6" r="3.5"/><circle cx="170.5" cy="296.6" r="3.5"/><circle cx="189.8" cy="292.4" r="3.5"/><circle cx="184.5" cy="286.5" r="3.5"/></g>
<line x1="65.60" y1="178.43" x2="212.10" y2="324.00" stroke="#111" stroke-width="1.2" stroke-dasharray="6.8 7.4" stroke-dashoffset="-28.19" clip-path="url(#ca3)"/>
<clipPath id="ca4"><rect x="285.6" y="197.0" width="135.5" height="134.89999999999998"/></clipPath>
<path fill="none" stroke="#e020e0" stroke-width="1.1" d="M297.3 206.5L300.8 211.4L297.3 216.3L293.8 211.4ZM312.1 220.1L315.6 225.0L312.1 229.9L308.6 225.0ZM321.8 226.6L325.3 231.5L321.8 236.4L318.3 231.5ZM329.2 237.1L332.7 242.0L329.2 246.9L325.7 242.0ZM334.9 236.3L338.4 241.2L334.9 246.1L331.4 241.2ZM338.5 247.4L342.0 252.3L338.5 257.2L335.0 252.3ZM343.8 249.1L347.3 254.0L343.8 258.9L340.3 254.0ZM348.1 253.5L351.6 258.4L348.1 263.3L344.6 258.4ZM352.5 253.5L356.0 258.4L352.5 263.3L349.0 258.4ZM356.0 252.6L359.5 257.5L356.0 262.4L352.5 257.5ZM358.6 254.4L362.1 259.3L358.6 264.2L355.1 259.3ZM361.3 256.1L364.8 261.0L361.3 265.9L357.8 261.0ZM363.9 259.6L367.4 264.5L363.9 269.4L360.4 264.5ZM364.8 269.3L368.3 274.2L364.8 279.1L361.3 274.2ZM370.9 271.0L374.4 275.9L370.9 280.8L367.4 275.9ZM375.3 263.1L378.8 268.0L375.3 272.9L371.8 268.0ZM368.8 263.0L372.3 267.9L368.8 272.8L365.3 267.9ZM377.0 275.4L380.5 280.3L377.0 285.2L373.5 280.3ZM378.8 282.4L382.3 287.3L378.8 292.2L375.3 287.3ZM382.3 278.9L385.8 283.8L382.3 288.7L378.8 283.8ZM387.5 270.1L391.0 275.0L387.5 279.9L384.0 275.0ZM389.3 273.6L392.8 278.5L389.3 283.4L385.8 278.5ZM385.8 287.6L389.3 292.5L385.8 297.4L382.3 292.5ZM391.0 280.6L394.5 285.5L391.0 290.4L387.5 285.5ZM375.2 263.0L378.7 267.9L375.2 272.8L371.7 267.9ZM376.8 278.2L380.3 283.1L376.8 288.0L373.3 283.1ZM392.9 273.4L396.4 278.3L392.9 283.2L389.4 278.3ZM401.7 287.9L405.2 292.8L401.7 297.7L398.2 292.8ZM408.2 287.9L411.7 292.8L408.2 297.7L404.7 292.8ZM385.0 277.1L388.5 282.0L385.0 286.9L381.5 282.0ZM388.0 280.1L391.5 285.0L388.0 289.9L384.5 285.0ZM391.0 278.1L394.5 283.0L391.0 287.9L387.5 283.0ZM394.0 282.1L397.5 287.0L394.0 291.9L390.5 287.0ZM397.0 285.1L400.5 290.0L397.0 294.9L393.5 290.0ZM400.0 283.1L403.5 288.0L400.0 292.9L396.5 288.0ZM403.0 287.1L406.5 292.0L403.0 296.9L399.5 292.0ZM386.0 285.1L389.5 290.0L386.0 294.9L382.5 290.0ZM392.0 274.1L395.5 279.0L392.0 283.9L388.5 279.0ZM398.0 279.1L401.5 284.0L398.0 288.9L394.5 284.0ZM395.0 276.1L398.5 281.0L395.0 285.9L391.5 281.0ZM401.0 280.1L404.5 285.0L401.0 289.9L397.5 285.0ZM340.2 248.9L343.7 253.8L340.2 258.7L336.7 253.8ZM344.5 254.1L348.0 259.0L344.5 263.9L341.0 259.0ZM348.2 251.6L351.7 256.5L348.2 261.4L344.7 256.5ZM351.4 254.1L354.9 259.0L351.4 263.9L347.9 259.0ZM354.4 252.8L357.9 257.7L354.4 262.6L350.9 257.7ZM357.1 258.1L360.6 263.0L357.1 267.9L353.6 263.0ZM359.5 260.0L363.0 264.9L359.5 269.8L356.0 264.9ZM361.8 257.2L365.3 262.1L361.8 267.0L358.3 262.1ZM363.9 256.4L367.4 261.3L363.9 266.2L360.4 261.3ZM365.9 263.6L369.4 268.5L365.9 273.4L362.4 268.5ZM367.7 265.0L371.2 269.9L367.7 274.8L364.2 269.9ZM369.4 263.6L372.9 268.5L369.4 273.4L365.9 268.5ZM371.1 266.5L374.6 271.4L371.1 276.3L367.6 271.4ZM376.0 298.6L379.5 303.5L376.0 308.4L372.5 303.5ZM382.5 298.6L386.0 303.5L382.5 308.4L379.0 303.5ZM388.9 298.6L392.4 303.5L388.9 308.4L385.4 303.5ZM394.5 298.6L398.0 303.5L394.5 308.4L391.0 303.5ZM399.3 298.6L402.8 303.5L399.3 308.4L395.8 303.5ZM401.7 298.6L405.2 303.5L401.7 308.4L398.2 303.5ZM405.0 298.6L408.5 303.5L405.0 308.4L401.5 303.5ZM408.2 298.6L411.7 303.5L408.2 308.4L404.7 303.5ZM410.0 298.6L413.5 303.5L410.0 308.4L406.5 303.5ZM411.4 298.6L414.9 303.5L411.4 308.4L407.9 303.5ZM413.0 298.6L416.5 303.5L413.0 308.4L409.5 303.5ZM414.6 298.6L418.1 303.5L414.6 308.4L411.1 303.5ZM416.0 298.6L419.5 303.5L416.0 308.4L412.5 303.5ZM417.8 298.6L421.3 303.5L417.8 308.4L414.3 303.5ZM419.0 298.6L422.5 303.5L419.0 308.4L415.5 303.5ZM420.2 298.6L423.7 303.5L420.2 308.4L416.7 303.5ZM387.3 288.5L390.8 293.4L387.3 298.3L383.8 293.4ZM391.3 288.5L394.8 293.4L391.3 298.3L387.8 293.4ZM401.7 288.5L405.2 293.4L401.7 298.3L398.2 293.4ZM408.2 288.5L411.7 293.4L408.2 298.3L404.7 293.4ZM380.0 282.5L383.5 287.4L380.0 292.3L376.5 287.4ZM396.1 282.5L399.6 287.4L396.1 292.3L392.6 287.4ZM398.5 282.5L402.0 287.4L398.5 292.3L395.0 287.4ZM410.6 282.5L414.1 287.4L410.6 292.3L407.1 287.4ZM376.8 278.3L380.3 283.2L376.8 288.1L373.3 283.2ZM389.7 272.4L393.2 277.3L389.7 282.2L386.2 277.3ZM392.9 272.4L396.4 277.3L392.9 282.2L389.4 277.3ZM409.8 272.4L413.3 277.3L409.8 282.2L406.3 277.3ZM386.5 270.2L390.0 275.1L386.5 280.0L383.0 275.1ZM370.4 270.2L373.9 275.1L370.4 280.0L366.9 275.1Z"/>
<line x1="268.50" y1="197.60" x2="419.00" y2="308.20" stroke="#111" stroke-width="1.2" stroke-dasharray="6.8 7.4" stroke-dashoffset="-24.82" clip-path="url(#ca4)"/>
<clipPath id="ca5"><rect x="493.4" y="197.0" width="135.5" height="134.89999999999998"/></clipPath>
<path fill="none" stroke="#111" stroke-width="1.05" stroke-linejoin="miter" d="M500.7 217.0L507.9 213.0L507.9 221.0ZM515.3 224.6L522.5 220.6L522.5 228.6ZM525.3 231.3L532.5 227.3L532.5 235.3ZM533.9 235.9L541.1 231.9L541.1 239.9ZM541.1 240.0L548.3 236.0L548.3 244.0ZM546.7 244.0L553.9 240.0L553.9 248.0ZM552.3 249.2L559.5 245.2L559.5 253.2ZM557.4 255.2L564.6 251.2L564.6 259.2ZM583.1 283.6L590.3 279.6L590.3 287.6ZM588.8 292.4L596.0 288.4L596.0 296.4ZM618.8 299.6L626.0 295.6L626.0 303.6ZM560.0 256.4L567.2 252.4L567.2 260.4ZM562.5 259.6L569.7 255.6L569.7 263.6ZM564.9 263.7L572.1 259.7L572.1 267.7ZM567.1 266.0L574.3 262.0L574.3 270.0ZM569.1 266.0L576.3 262.0L576.3 270.0ZM571.0 265.0L578.2 261.0L578.2 269.0ZM572.8 268.2L580.0 264.2L580.0 272.2ZM574.4 271.4L581.6 267.4L581.6 275.4ZM576.0 264.6L583.2 260.6L583.2 268.6ZM577.5 271.4L584.7 267.4L584.7 275.4ZM579.0 284.8L586.2 280.8L586.2 288.8ZM580.3 270.7L587.5 266.7L587.5 274.7ZM581.7 277.7L588.9 273.7L588.9 281.7ZM582.9 283.1L590.1 279.1L590.1 287.1ZM584.1 289.0L591.3 285.0L591.3 293.0ZM585.3 283.1L592.5 279.1L592.5 287.1ZM586.4 275.6L593.6 271.6L593.6 279.6ZM587.4 274.7L594.6 270.7L594.6 278.7ZM588.5 281.6L595.7 277.6L595.7 285.6ZM589.5 286.8L596.7 282.8L596.7 290.8ZM590.4 281.6L597.6 277.6L597.6 285.6ZM591.4 286.8L598.6 282.8L598.6 290.8ZM592.3 284.8L599.5 280.8L599.5 288.8ZM593.1 291.7L600.3 287.7L600.3 295.7ZM594.0 284.8L601.2 280.8L601.2 288.8ZM594.8 291.7L602.0 287.7L602.0 295.7ZM595.6 289.0L602.8 285.0L602.8 293.0ZM596.4 294.9L603.6 290.9L603.6 298.9ZM597.2 286.8L604.4 282.8L604.4 290.8ZM597.9 291.7L605.1 287.7L605.1 295.7ZM598.6 289.0L605.8 285.0L605.8 293.0ZM599.3 291.7L606.5 287.7L606.5 295.7ZM600.0 289.0L607.2 285.0L607.2 293.0ZM607.4 315.2L614.6 311.2L614.6 319.2ZM609.0 315.2L616.2 311.2L616.2 319.2ZM610.6 315.2L617.8 311.2L617.8 319.2ZM612.2 315.2L619.4 311.2L619.4 319.2ZM613.8 315.2L621.0 311.2L621.0 319.2ZM615.4 315.2L622.6 311.2L622.6 319.2ZM617.0 315.2L624.2 311.2L624.2 319.2ZM618.6 315.2L625.8 311.2L625.8 319.2ZM620.2 315.2L627.4 311.2L627.4 319.2ZM621.8 315.2L629.0 311.2L629.0 319.2ZM594.4 305.1L601.6 301.1L601.6 309.1ZM596.2 305.1L603.4 301.1L603.4 309.1ZM598.0 305.1L605.2 301.1L605.2 309.1ZM599.8 305.1L607.0 301.1L607.0 309.1ZM601.6 305.1L608.8 301.1L608.8 309.1ZM603.4 305.1L610.6 301.1L610.6 309.1ZM605.2 305.1L612.4 301.1L612.4 309.1ZM607.0 305.1L614.2 301.1L614.2 309.1ZM608.8 305.1L616.0 301.1L616.0 309.1ZM610.6 305.1L617.8 301.1L617.8 309.1ZM612.4 305.1L619.6 301.1L619.6 309.1ZM614.2 305.1L621.4 301.1L621.4 309.1ZM598.4 299.1L605.6 295.1L605.6 303.1ZM601.4 299.1L608.6 295.1L608.6 303.1ZM604.4 299.1L611.6 295.1L611.6 303.1ZM607.4 299.1L614.6 295.1L614.6 303.1ZM610.4 299.1L617.6 295.1L617.6 303.1ZM613.4 299.1L620.6 295.1L620.6 303.1ZM616.4 299.1L623.6 295.1L623.6 303.1ZM602.4 294.9L609.6 290.9L609.6 298.9ZM605.4 294.9L612.6 290.9L612.6 298.9ZM608.4 294.9L615.6 290.9L615.6 298.9Z"/>
<line x1="476.10" y1="180.91" x2="627.70" y2="315.00" stroke="#111" stroke-width="1.2" stroke-dasharray="6.8 7.4" stroke-dashoffset="-26.70" clip-path="url(#ca5)"/>
</svg></body></html>
